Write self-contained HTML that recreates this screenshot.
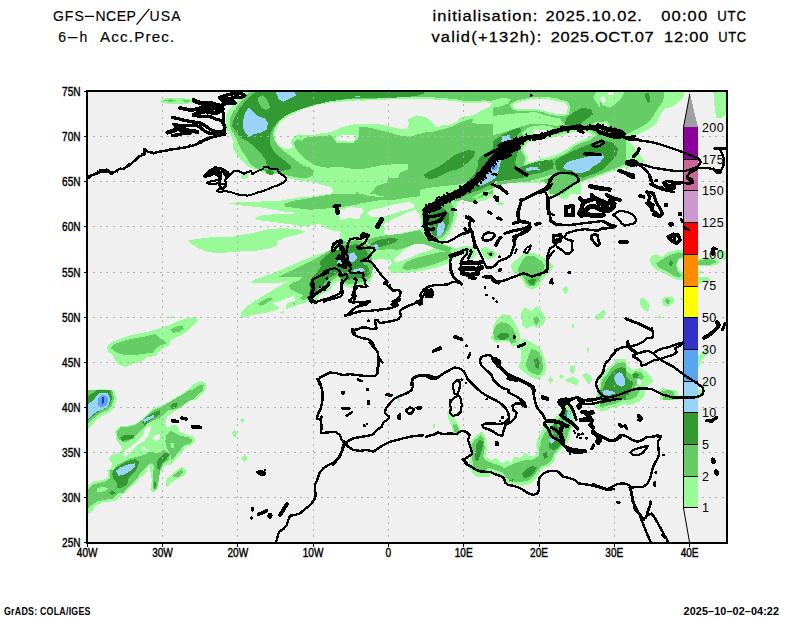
<!DOCTYPE html>
<html><head><meta charset="utf-8"><title>GFS 6-h Acc.Prec.</title>
<style>
html,body{margin:0;padding:0;background:#fff;}
body{width:800px;height:618px;overflow:hidden;position:relative;font-family:"Liberation Sans",sans-serif;}
svg{position:absolute;left:0;top:0;display:block;}
text{font-family:"Liberation Sans",sans-serif;fill:#000;}
</style></head><body>
<svg width="800" height="618" viewBox="0 0 800 618">
<defs><clipPath id="clip"><rect x="87" y="91" width="640" height="452"/></clipPath></defs>
<rect x="0" y="0" width="800" height="618" fill="#ffffff"/>
<rect x="87" y="91" width="640" height="452" fill="#f0f0f0"/>
<g clip-path="url(#clip)" shape-rendering="crispEdges">
<polygon points="245.3,91.0 241.2,96.0 237.0,101.0 232.0,106.8 228.7,111.0 226.2,116.0 226.2,129.3 230.3,134.3 233.7,141.0 232.8,147.7 235.3,152.7 238.7,157.7 243.7,162.7 248.7,166.8 254.5,169.3 260.3,171.0 267.0,174.3 275.3,173.5 282.0,174.3 287.0,177.7 297.0,180.2 307.0,181.0 313.7,181.8 320.3,184.3 330.3,186.8 333.7,191.0 330.3,194.0 360.3,194.0 360.3,91.0" fill="#98fb98"/>
<polygon points="241.2,175.2 245.3,173.5 248.7,174.3 247.8,177.7 243.7,179.3 241.2,177.7" fill="#98fb98"/>
<polygon points="360.0,91.0 493.3,91.0 493.3,194.0 360.0,194.0" fill="#98fb98"/>
<polygon points="493.0,91.0 626.3,91.0 626.3,194.0 493.0,194.0" fill="#98fb98"/>
<polygon points="548.0,184.3 573.0,184.3 581.3,182.3 581.3,194.0 548.0,194.0" fill="#98fb98"/>
<polygon points="600.0,91.0 684.2,91.0 683.3,97.7 678.3,102.7 671.7,106.8 665.0,108.5 661.7,112.7 658.3,118.5 656.7,123.5 651.7,126.8 646.7,130.2 641.7,132.7 636.7,135.2 631.7,137.7 628.3,141.0 633.3,146.0 638.3,152.7 641.7,157.7 645.0,162.7 640.0,164.3 633.3,166.0 625.0,171.0 616.7,174.3 610.0,177.7 600.0,181.0" fill="#98fb98"/>
<polygon points="159.5,101.0 164.5,98.5 177.0,98.0 192.0,99.0 193.2,102.2 187.0,104.0 172.0,104.0 162.0,103.0" fill="#98fb98"/>
<polygon points="228.7,203.7 243.7,201.5 260.3,201.5 280.3,200.7 290.3,199.0 300.3,197.3 313.7,196.5 327.0,194.0 360.3,194.0 360.3,250.7 331.7,250.0 335.3,244.0 342.0,237.3 350.3,231.5 340.3,231.5 330.3,229.8 323.7,227.3 320.3,224.0 313.7,224.8 305.3,226.5 293.7,224.8 282.0,223.2 268.7,221.5 256.2,219.8 255.3,218.2 260.3,215.7 277.0,214.0 293.7,213.7 293.7,212.3 283.7,211.5 273.7,209.8 260.3,207.3 243.7,205.7" fill="#98fb98"/>
<polygon points="188.3,240.3 200.0,238.7 213.3,237.0 223.3,236.5 233.0,236.7 237.0,235.7 252.0,233.2 268.7,229.0 283.7,228.2 297.0,229.0 305.3,231.5 300.3,234.0 292.0,235.7 283.7,238.2 277.8,240.7 277.0,245.7 270.3,248.2 257.0,250.7 240.3,251.5 233.0,251.5 223.3,253.2 215.0,253.2 206.7,251.5 198.3,248.2 191.7,244.0" fill="#98fb98"/>
<polygon points="251.7,280.8 263.3,276.7 276.7,271.7 290.0,265.8 303.3,260.0 316.7,255.0 328.3,250.8 331.7,250.0 363.3,250.0 363.3,283.3 356.7,281.7 350.0,285.0 346.7,282.5 345.0,276.7 341.7,279.2 336.7,281.7 332.5,285.0 331.7,289.2 325.0,292.5 319.2,295.8 316.7,300.0 316.7,304.2 313.3,305.0 308.3,301.7 303.3,303.3 296.7,305.0 290.0,307.5 285.8,309.2 286.7,303.3 291.7,301.7 296.7,300.0 293.3,295.8 286.7,298.3 278.3,301.7 271.7,303.3 276.7,305.8 280.0,308.3 273.3,310.8 266.7,312.5 256.7,314.2 246.7,316.7 240.8,318.3 240.8,312.5 246.7,306.7 255.0,300.8 263.3,295.8 271.7,290.8 278.3,286.7 285.0,283.3 288.3,280.8 280.0,282.5 263.3,283.3 251.7,282.5" fill="#98fb98"/>
<polygon points="280.0,312.5 284.2,311.3 283.3,314.2" fill="#98fb98"/>
<polygon points="360.0,194.0 464.0,194.0 452.0,191.0 460.0,186.0 470.0,180.0 500.0,180.0 500.0,190.0 494.0,195.0 486.0,200.0 478.0,202.0 468.0,200.0 464.0,198.0 458.0,202.0 456.0,208.0 457.0,216.0 454.0,224.0 450.0,232.0 446.0,238.0 444.0,244.0 452.0,247.0 460.0,250.0 456.0,255.0 452.0,260.0 446.0,264.0 434.0,268.0 420.0,271.0 406.0,273.0 391.0,273.0 388.0,267.0 392.0,263.0 390.0,260.0 380.0,259.0 373.0,260.0 373.0,276.0 370.0,282.0 362.0,286.0 352.0,288.0 344.0,286.0 340.0,284.0 340.0,194.0" fill="#98fb98"/>
<polygon points="468.0,248.0 473.0,246.0 475.0,252.0 470.0,255.0" fill="#98fb98"/>
<polygon points="488.0,253.0 494.0,251.0 496.0,256.0 490.0,257.0" fill="#98fb98"/>
<polygon points="390.0,268.0 398.0,260.0 430.0,260.0 430.0,269.0 418.0,268.0 408.0,270.0 398.0,271.0" fill="#98fb98"/>
<polygon points="510.5,264.8 518.0,258.2 524.7,252.3 534.7,253.2 543.0,257.3 549.7,262.3 553.8,266.5 549.7,272.3 543.0,279.0 538.0,287.3 531.3,289.8 526.3,287.3 523.0,280.7 518.0,275.7 513.0,271.5" fill="#98fb98"/>
<polygon points="496.3,203.2 501.3,201.5 504.7,204.0 500.5,205.7" fill="#98fb98"/>
<polygon points="548.0,194.0 569.7,194.0 568.0,198.2 564.7,199.8 559.7,197.3 553.0,195.7" fill="#98fb98"/>
<polygon points="562.2,289.8 565.5,285.7 568.8,289.8 565.5,294.0" fill="#98fb98"/>
<polygon points="493.0,250.7 496.3,253.2 493.0,257.3" fill="#98fb98"/>
<polygon points="649.2,260.7 651.7,255.7 656.7,254.0 661.7,257.3 666.7,253.2 673.3,250.7 680.0,249.8 686.7,251.5 698.0,259.0 706.7,257.3 716.7,258.2 720.0,260.7 716.7,264.8 708.3,266.5 698.0,265.7 693.3,272.3 686.7,280.7 678.3,279.8 673.3,278.2 668.3,275.7 663.3,273.2 656.7,269.8 651.7,265.7" fill="#98fb98"/>
<polygon points="716.7,251.5 726.7,250.7 726.7,260.7 721.7,259.0" fill="#98fb98"/>
<polygon points="698.3,272.3 700.8,269.8 702.5,272.3 700.0,274.8" fill="#98fb98"/>
<polygon points="698.0,277.3 708.3,276.5 710.0,280.7 698.0,284.0" fill="#98fb98"/>
<polygon points="107.0,347.0 110.3,342.8 120.3,338.7 133.7,334.5 147.0,332.0 158.7,328.7 170.3,324.5 180.3,320.3 190.3,317.8 197.0,317.0 197.8,321.2 192.0,327.0 185.3,332.8 177.0,337.0 170.3,340.3 169.5,345.3 163.7,347.8 158.7,352.0 155.3,356.2 147.0,357.0 142.0,361.2 133.7,363.7 125.3,367.0 120.3,365.3 115.3,361.2 112.8,355.3 107.8,351.2" fill="#98fb98"/>
<polygon points="167.0,317.0 173.7,316.2 171.2,318.7" fill="#98fb98"/>
<polygon points="173.7,400.0 180.3,395.3 188.7,388.7 195.3,382.8 202.0,381.2 206.2,383.7 206.2,388.7 202.0,393.7 195.3,400.0" fill="#98fb98"/>
<polygon points="87.0,392.8 93.7,390.3 102.0,388.7 110.3,390.3 116.2,395.3 117.0,400.0 87.0,400.0" fill="#98fb98"/>
<polygon points="493.0,327.0 496.3,320.3 503.0,313.7 509.7,315.3 514.7,322.0 518.8,330.3 520.5,337.8 518.0,345.3 513.0,347.0 509.7,342.0 503.0,341.2 496.3,342.8 493.0,341.2" fill="#98fb98"/>
<polygon points="520.5,313.7 524.7,307.0 531.3,311.2 536.3,306.2 541.3,310.3 546.3,318.7 543.0,324.5 536.3,327.8 533.0,325.3 526.3,328.7 522.2,325.3 521.3,318.7" fill="#98fb98"/>
<polygon points="518.0,345.3 523.0,338.7 529.7,341.2 536.3,345.3 541.3,350.3 544.7,358.7 546.3,367.0 544.7,374.5 538.0,379.5 531.3,377.0 524.7,372.8 518.0,367.0 521.3,360.3 521.3,352.0" fill="#98fb98"/>
<polygon points="594.7,316.2 599.7,312.8 604.7,309.5 606.3,313.7 601.3,318.7 596.3,320.3" fill="#98fb98"/>
<polygon points="571.3,326.2 573.0,323.7 575.0,326.2 573.0,328.3" fill="#98fb98"/>
<polygon points="586.3,348.7 588.8,347.8 588.8,353.7" fill="#98fb98"/>
<polygon points="570.5,366.2 575.5,365.3 574.7,371.2 572.2,374.5 570.0,371.2" fill="#98fb98"/>
<polygon points="548.0,380.3 550.5,376.2 553.0,380.3 550.5,383.7" fill="#98fb98"/>
<polygon points="558.8,376.2 561.3,374.0 563.8,376.7 561.3,378.7" fill="#98fb98"/>
<polygon points="564.7,379.5 573.0,377.0 578.8,380.3 578.0,386.2 573.0,383.7 566.3,381.2" fill="#98fb98"/>
<polygon points="581.3,375.3 586.3,372.8 590.5,375.3 592.2,380.3 588.8,384.5 584.7,378.7" fill="#98fb98"/>
<polygon points="586.3,317.0 588.8,316.2 588.8,318.7" fill="#98fb98"/>
<polygon points="596.3,395.3 599.7,383.7 606.3,372.0 613.0,363.7 619.7,358.7 626.3,359.5 626.3,400.0 596.3,400.0" fill="#98fb98"/>
<polygon points="600.0,375.3 605.0,370.3 611.7,365.3 616.7,358.7 623.3,359.5 626.7,365.3 633.3,370.3 640.0,367.8 646.7,372.0 651.7,377.0 653.3,382.0 648.3,385.3 643.3,387.8 636.7,389.5 633.3,395.3 626.7,400.0 600.0,400.0" fill="#98fb98"/>
<polygon points="640.0,298.7 644.2,297.8 650.0,305.3 648.3,312.0 643.3,309.5 640.0,304.5" fill="#98fb98"/>
<polygon points="600.0,312.0 605.0,309.5 605.8,313.7 600.0,318.7" fill="#98fb98"/>
<polygon points="657.5,317.0 659.7,314.5 661.7,317.0 659.7,319.0" fill="#98fb98"/>
<polygon points="661.7,300.3 665.0,297.0 673.3,297.0 674.2,302.0 668.3,307.0 663.3,305.3" fill="#98fb98"/>
<polygon points="679.2,298.7 683.3,297.8 683.3,300.3" fill="#98fb98"/>
<polygon points="698.0,357.0 701.7,352.0 706.7,350.3 706.7,354.5 703.3,357.8 700.0,363.7 698.3,368.7" fill="#98fb98"/>
<polygon points="703.3,383.7 708.3,382.0 706.7,386.2 702.5,387.8" fill="#98fb98"/>
<polygon points="660.0,390.3 663.3,387.0 670.0,392.0 675.0,397.0 680.0,400.0 660.0,400.0" fill="#98fb98"/>
<polygon points="87.0,390.0 113.7,390.0 116.2,396.7 115.3,405.0 110.3,411.7 103.7,415.0 97.0,419.2 92.0,425.0 87.0,430.0" fill="#98fb98"/>
<polygon points="190.3,390.0 183.7,393.3 177.0,396.7 168.7,401.7 160.3,405.8 153.7,408.3 148.7,413.3 142.0,419.2 135.3,424.2 127.0,425.8 118.7,426.7 115.3,431.7 116.2,440.0 120.3,445.0 122.8,449.2 118.7,452.5 112.0,455.0 108.7,458.3 112.0,463.3 111.2,468.3 107.0,471.7 112.0,475.0 108.7,480.0 100.3,480.8 93.7,482.5 88.7,488.3 87.0,493.0 125.3,493.0 128.7,488.3 135.3,483.3 140.3,476.7 145.3,471.7 148.7,465.0 150.3,470.0 152.8,475.0 152.0,483.3 150.3,490.0 153.7,492.5 157.8,488.3 158.7,480.0 160.3,471.7 165.3,465.0 170.3,465.0 173.7,461.7 177.8,456.7 182.0,451.7 185.3,447.5 192.0,445.0 195.3,440.8 193.7,436.7 187.0,435.0 179.5,431.7 177.8,425.8 172.0,425.0 167.0,428.3 165.3,423.3 167.0,416.7 173.7,411.7 182.0,406.7 190.3,400.8 198.7,395.0 203.7,390.0" fill="#98fb98"/>
<polygon points="165.3,483.3 167.0,478.3 172.0,475.0 177.0,470.0 182.0,466.7 185.3,470.0 182.0,476.7 175.3,480.0 170.3,483.3 167.0,487.5" fill="#98fb98"/>
<polygon points="87.0,514.9 92.0,511.6 95.3,505.7 103.6,502.4 115.3,500.8 120.3,496.6 125.2,491.6 131.9,485.8 136.9,480.0 143.5,475.0 148.5,470.0 107.0,470.0 108.6,476.7 103.6,480.0 93.7,481.6 87.0,486.6" fill="#98fb98"/>
<polygon points="150.2,470.0 160.2,470.0 158.5,480.0 156.8,490.0 153.5,492.4 151.0,488.3 151.8,480.0" fill="#98fb98"/>
<polygon points="165.1,486.6 166.8,480.0 171.8,475.0 176.8,470.0 186.8,470.0 185.1,475.0 178.4,477.5 173.5,479.1 168.5,483.3" fill="#98fb98"/>
<polygon points="240.0,420.8 242.5,418.3 245.0,420.8 242.5,423.3" fill="#98fb98"/>
<polygon points="232.0,433.3 234.5,429.2 237.0,434.2 234.5,438.3" fill="#98fb98"/>
<polygon points="241.3,458.3 244.7,454.2 248.0,458.3 244.7,462.5" fill="#98fb98"/>
<polygon points="395.5,399.2 400.5,397.5 399.7,401.7" fill="#98fb98"/>
<polygon points="432.7,424.2 434.7,424.2 433.8,430.8" fill="#98fb98"/>
<polygon points="447.2,411.7 449.7,410.8 453.0,416.7 458.0,423.3 460.5,430.0 459.7,435.0 456.3,435.8 453.8,430.0 450.5,423.3 448.0,417.5" fill="#98fb98"/>
<polygon points="468.0,445.0 473.0,438.3 479.7,432.5 482.2,431.7 486.3,438.3 486.7,450.0 485.0,458.3 489.7,463.3 489.7,476.7 476.3,476.7 471.3,471.7 468.0,466.7 469.7,460.0 472.2,453.3" fill="#98fb98"/>
<polygon points="490.0,337.0 493.3,334.5 493.3,341.2" fill="#98fb98"/>
<polygon points="395.0,398.7 400.0,397.0 400.8,400.0" fill="#98fb98"/>
<polygon points="486.0,456.7 491.0,460.0 496.0,458.3 502.7,463.3 507.7,460.0 511.0,463.3 514.3,456.7 521.0,458.3 524.3,452.5 529.3,455.8 534.3,456.7 537.7,451.7 536.0,445.0 537.7,438.3 541.0,431.7 543.5,427.5 549.3,423.3 554.3,418.3 559.3,413.3 564.3,406.7 571.0,405.0 574.3,408.3 573.5,416.7 575.2,423.3 571.0,430.0 569.3,436.7 567.7,443.3 564.3,446.7 559.3,450.8 555.2,455.8 554.3,461.7 550.2,465.8 544.3,467.5 539.3,472.5 536.0,478.3 531.0,483.3 522.7,485.8 512.7,484.2 506.0,481.7 501.0,476.7 494.3,473.3 486.0,470.0" fill="#98fb98"/>
<polygon points="594.3,406.7 597.7,401.7 602.7,396.7 601.0,390.0 619.3,390.0 619.3,406.7 612.7,406.7 606.0,409.2 599.3,410.0" fill="#98fb98"/>
<polygon points="486.0,441.7 487.3,441.7 487.3,450.0 486.0,450.0" fill="#98fb98"/>
<polygon points="600.0,390.0 645.0,390.0 644.2,396.7 638.3,401.7 630.0,405.0 623.3,404.2 616.7,406.7 610.0,408.3 605.0,410.8 600.0,411.7" fill="#98fb98"/>
<polygon points="658.3,390.0 676.7,390.0 678.3,396.7 673.3,400.0 666.7,399.2 661.7,396.7" fill="#98fb98"/>
<polygon points="698.0,390.0 703.3,390.0 701.7,396.7 698.0,398.3" fill="#98fb98"/>
<polygon points="447.5,411.7 450.8,416.7 455.0,423.3 459.2,430.0 460.8,433.0 453.3,433.0 451.7,426.7 449.2,420.0" fill="#98fb98"/>
<polygon points="433.0,424.2 434.7,424.2 434.2,430.8" fill="#98fb98"/>
<polygon points="462.5,245.7 470.0,246.5 475.2,249.5 476.7,254.7 472.2,259.2 467.0,257.7 462.5,254.0 456.5,257.0 452.0,260.0 449.0,255.5 455.0,249.5" fill="#98fb98"/>
<polygon points="480.5,248.0 486.5,247.2 492.5,250.2 497.7,254.0 494.0,257.7 488.0,260.0 483.5,256.2 481.2,251.7" fill="#98fb98"/>
<polygon points="274.5,137.7 275.3,131.0 278.7,124.3 283.7,119.3 292.0,114.3 300.3,110.2 310.3,106.8 320.3,104.3 330.3,102.7 343.7,101.3 360.3,100.2 360.3,124.0 353.7,124.3 347.0,126.0 340.3,127.7 333.7,131.0 327.0,132.7 320.3,133.5 313.7,135.2 305.3,135.2 298.7,134.3 293.7,136.8 291.2,141.0 292.0,147.7 288.7,149.3 282.0,147.7 277.0,143.5" fill="#f0f0f0"/>
<polygon points="359.2,100.7 376.7,100.2 393.3,99.0 410.0,98.5 426.7,99.0 443.3,100.2 456.7,101.3 466.7,103.5 476.7,103.0 485.0,101.8 491.7,103.5 490.0,106.8 483.3,109.3 476.7,113.5 470.0,116.0 460.0,116.8 456.7,121.8 451.7,124.3 443.3,125.2 436.7,127.7 431.7,122.7 426.7,117.7 416.7,115.2 410.0,118.5 407.5,118.5 409.2,124.3 406.7,128.5 398.3,128.5 388.3,126.0 376.7,124.0 359.2,123.7" fill="#f0f0f0"/>
<polygon points="600.0,181.0 610.0,177.7 616.7,174.3 625.0,171.0 633.3,166.0 640.0,164.3 645.0,162.7 641.7,157.7 638.3,152.7 633.3,146.0 628.3,141.0 631.7,137.7 636.7,135.2 641.7,132.7 646.7,130.2 651.7,126.8 656.7,123.5 658.3,118.5 661.7,112.7 665.0,108.5 671.7,106.8 678.3,102.7 683.3,97.7 684.2,91.0 733.3,91.0 733.3,194.0 600.0,194.0" fill="#f0f0f0"/>
<polygon points="336.2,215.3 343.7,212.7 353.7,211.3 360.3,210.7 360.3,219.0 350.3,218.3 343.7,217.3" fill="#f0f0f0"/>
<polygon points="340.0,210.0 350.0,207.0 362.0,208.0 364.0,212.0 360.0,215.0 352.0,216.0 346.0,219.0 340.0,220.0" fill="#f0f0f0"/>
<polygon points="366.0,213.0 372.0,210.0 384.0,207.0 396.0,204.0 408.0,202.0 415.0,204.0 414.0,208.0 406.0,210.0 398.0,212.0 390.0,215.0 380.0,217.0 372.0,217.0" fill="#f0f0f0"/>
<polygon points="383.0,225.0 388.0,221.0 398.0,217.0 408.0,212.0 416.0,210.0 420.0,215.0 421.0,222.0 422.0,228.0 416.0,230.0 406.0,232.0 398.0,234.0 390.0,235.0 384.0,234.0 385.0,229.0" fill="#f0f0f0"/>
<polygon points="404.0,250.0 412.0,245.0 424.0,242.0 432.0,244.0 436.0,248.0 428.0,251.0 420.0,253.0 412.0,257.0 404.0,260.0 396.0,263.0 393.0,260.0 398.0,255.0" fill="#f0f0f0"/>
<polygon points="152.8,438.3 155.3,435.0 159.5,434.2 160.3,438.3 157.0,440.8 153.7,440.0" fill="#f0f0f0"/>
<polygon points="145.3,428.3 152.0,425.0 150.3,430.0 147.8,436.7 143.7,441.7 137.0,445.0 132.0,450.0 127.0,455.0 124.5,458.3 122.8,455.0 125.3,450.0 130.3,446.7 137.0,441.7 142.0,436.7" fill="#f0f0f0"/>
<polygon points="140.3,445.8 145.3,447.5 148.7,450.8 143.7,450.0" fill="#f0f0f0"/>
<polygon points="250.3,91.0 245.3,96.8 238.7,104.3 233.7,111.0 230.3,117.7 229.5,124.3 232.0,131.0 236.2,137.7 238.7,144.3 242.0,151.0 247.0,157.7 250.3,164.3 257.0,168.5 265.3,171.0 268.7,174.3 275.3,172.7 283.7,174.3 290.3,176.0 298.7,177.7 307.0,177.7 312.8,176.0 313.7,171.0 310.3,167.7 303.7,166.0 297.0,161.0 290.3,156.0 283.7,151.0 278.7,146.0 274.5,141.0 272.8,134.3 274.5,128.5 278.7,121.8 285.3,116.0 295.3,111.0 307.0,106.8 318.7,103.5 332.0,101.0 347.0,99.3 360.3,98.5 360.3,91.0" fill="#66cc66"/>
<polygon points="293.7,142.7 297.0,139.3 302.0,141.0 305.3,137.7 313.7,136.8 323.7,136.0 330.3,135.2 333.7,138.5 335.3,141.0 343.7,142.7 353.7,141.8 357.0,138.5 360.3,136.0 360.3,169.3 350.3,168.5 340.3,166.8 327.0,167.7 317.0,166.0 313.7,164.3 308.7,161.0 303.7,157.7 298.7,152.7 295.3,147.7" fill="#66cc66"/>
<polygon points="360.0,91.0 493.3,91.0 493.3,101.3 483.3,100.2 476.7,101.0 466.7,101.3 456.7,99.3 443.3,98.0 426.7,97.0 410.0,96.7 393.3,97.3 376.7,98.5 360.0,99.3" fill="#66cc66"/>
<polygon points="359.2,126.8 370.0,127.7 380.0,130.2 390.0,132.7 401.7,136.0 410.0,136.8 415.0,135.2 423.3,132.7 433.3,131.8 443.3,129.3 453.3,126.0 461.7,121.8 470.0,119.3 473.3,118.5 471.7,122.7 480.0,124.3 493.3,123.5 493.3,194.0 360.0,194.0" fill="#66cc66"/>
<polygon points="493.0,91.0 596.3,91.0 593.0,97.7 599.7,107.7 609.7,111.0 619.7,109.3 626.3,112.7 626.3,166.0 616.3,170.2 606.3,173.5 593.0,178.5 581.3,181.8 573.0,184.3 548.0,184.3 543.0,181.0 526.3,181.8 509.7,181.0 493.0,179.3" fill="#66cc66"/>
<polygon points="549.7,174.3 563.0,174.3 576.3,176.8 579.7,181.8 571.3,187.7 563.0,194.0 549.7,194.0 548.0,186.0" fill="#66cc66"/>
<polygon points="600.0,101.0 605.0,106.0 610.0,107.7 616.7,102.7 621.7,97.7 625.0,91.0 664.2,91.0 663.3,101.0 658.3,107.7 653.3,116.0 648.3,122.7 641.7,126.8 633.3,131.0 626.7,134.3 623.3,141.0 623.3,146.0 620.0,152.7 625.0,157.7 621.7,164.3 615.0,169.3 606.7,174.3 600.0,176.0" fill="#66cc66"/>
<polygon points="713.3,91.0 726.7,91.0 726.7,114.3 721.7,117.7 716.7,118.5 715.0,111.0 714.2,101.0" fill="#98fb98"/>
<polygon points="164.5,100.5 170.8,99.2 175.8,100.5 170.8,102.5" fill="#66cc66"/>
<polygon points="182.0,100.5 187.0,99.5 190.8,101.0 186.5,102.5" fill="#66cc66"/>
<polygon points="283.7,204.0 293.7,200.7 303.7,199.0 313.7,197.3 323.7,195.7 333.7,194.0 360.3,194.0 360.3,204.0 350.3,205.7 340.3,207.3 330.3,208.2 320.3,209.0 310.3,209.8 297.0,208.2 285.3,206.5" fill="#66cc66"/>
<polygon points="279.2,276.7 285.0,273.3 296.7,268.3 306.7,263.3 316.7,258.3 325.0,253.3 330.0,250.0 363.3,250.0 363.3,271.7 356.7,273.3 351.7,276.7 346.7,275.0 345.0,271.7 340.0,275.0 335.0,278.3 330.0,281.7 326.7,285.8 321.7,289.2 317.5,291.7 313.3,295.0 310.0,300.0 308.3,298.3 303.3,300.0 300.0,298.3 303.3,295.0 296.7,292.5 291.7,290.0 288.3,285.8 293.3,282.5 300.0,280.0 303.3,276.7 296.7,276.7 288.3,277.5" fill="#66cc66"/>
<polygon points="258.3,303.3 264.2,300.0 269.2,297.5 273.3,299.2 268.3,301.7 263.3,305.0 260.0,305.8" fill="#66cc66"/>
<polygon points="292.5,303.3 295.8,303.0 294.2,305.0" fill="#66cc66"/>
<polygon points="374.0,194.0 380.0,196.0 394.0,198.0 408.0,196.0 414.0,194.0" fill="#66cc66"/>
<polygon points="366.0,240.0 376.0,237.0 388.0,235.0 400.0,234.0 410.0,232.0 420.0,230.0 426.0,238.0 432.0,242.0 444.0,245.0 452.0,248.0 448.0,252.0 440.0,250.0 432.0,247.0 424.0,244.0 416.0,244.0 406.0,247.0 398.0,250.0 390.0,249.0 380.0,250.0 372.0,249.0" fill="#66cc66"/>
<polygon points="402.0,268.0 406.0,262.0 416.0,258.0 428.0,255.0 440.0,252.0 449.0,251.0 452.0,254.0 448.0,259.0 438.0,263.0 428.0,266.0 416.0,269.0 406.0,270.0" fill="#66cc66"/>
<polygon points="422.0,212.0 426.0,206.0 436.0,202.0 446.0,200.0 452.0,204.0 454.0,212.0 453.0,220.0 449.0,229.0 444.0,236.0 438.0,239.0 430.0,238.0 426.0,232.0 423.0,222.0" fill="#66cc66"/>
<polygon points="452.0,192.0 460.0,187.0 470.0,182.0 478.0,180.0 500.0,180.0 500.0,186.0 492.0,192.0 484.0,196.0 476.0,199.0 468.0,197.0 460.0,195.0" fill="#66cc66"/>
<polygon points="340.0,240.0 348.0,242.0 356.0,240.0 364.0,242.0 370.0,248.0 372.0,260.0 373.0,268.0 371.0,276.0 366.0,281.0 358.0,283.0 348.0,284.0 340.0,281.0" fill="#66cc66"/>
<polygon points="518.0,269.0 522.2,260.7 526.3,255.7 534.7,256.5 541.3,260.7 544.7,265.7 543.0,272.3 539.7,279.0 534.7,285.7 529.7,286.5 526.3,282.3 523.0,276.5 518.8,273.2" fill="#66cc66"/>
<polygon points="655.8,263.2 661.7,259.8 666.7,256.5 673.3,254.0 678.3,252.3 683.3,253.2 683.3,256.5 678.3,259.0 675.8,264.0 677.5,270.7 681.7,275.7 678.3,277.3 673.3,275.7 668.3,272.3 663.3,269.8 658.3,267.3" fill="#66cc66"/>
<polygon points="698.0,260.7 706.7,259.0 715.0,259.8 716.7,262.3 710.0,264.8 698.0,264.8" fill="#66cc66"/>
<polygon points="110.3,347.8 115.3,343.7 125.3,340.3 137.0,337.8 147.0,336.2 155.3,333.7 160.3,338.7 165.3,341.2 166.2,343.7 160.3,345.3 155.3,348.7 152.8,352.8 143.7,353.7 133.7,355.3 125.3,355.3 117.0,352.8" fill="#66cc66"/>
<polygon points="170.3,329.5 175.3,327.0 182.0,325.3 183.7,328.7 179.5,332.0 172.8,332.8" fill="#66cc66"/>
<polygon points="180.3,400.0 187.0,394.5 193.7,388.7 200.3,384.5 203.7,384.5 202.8,390.3 197.0,395.3 192.0,400.0" fill="#66cc66"/>
<polygon points="87.0,395.3 95.3,392.0 102.0,390.3 109.5,392.0 113.7,396.2 114.5,400.0 87.0,400.0" fill="#66cc66"/>
<polygon points="493.0,332.0 496.3,325.3 501.3,322.0 508.0,323.7 513.0,328.7 516.3,335.3 515.5,342.0 511.3,343.7 508.0,339.5 501.3,339.5 494.7,340.3" fill="#66cc66"/>
<polygon points="533.0,317.8 537.2,316.2 539.7,320.3 536.3,325.3 533.8,322.0" fill="#66cc66"/>
<polygon points="525.5,365.3 528.0,357.0 531.3,348.7 538.0,351.2 542.2,358.7 543.0,368.7 539.7,375.3 533.0,373.7 528.0,370.3" fill="#66cc66"/>
<polygon points="599.7,390.3 603.0,380.3 609.7,370.3 616.3,363.7 623.0,362.0 626.3,363.7 626.3,400.0 601.3,400.0" fill="#66cc66"/>
<polygon points="601.7,380.3 608.3,373.7 615.0,367.0 618.3,362.8 622.5,363.7 625.0,370.3 631.7,375.3 635.8,371.2 641.7,372.8 644.2,377.0 640.0,382.0 635.8,385.3 633.3,390.3 628.3,395.3 621.7,400.0 600.0,400.0" fill="#66cc66"/>
<polygon points="665.0,300.3 667.5,297.8 670.0,300.3 668.3,304.5 665.8,302.8" fill="#66cc66"/>
<polygon points="662.5,393.7 665.0,391.2 670.0,395.3 673.3,400.0 663.3,400.0" fill="#66cc66"/>
<polygon points="87.0,390.0 112.0,390.0 113.7,397.5 112.0,405.0 107.0,410.0 100.3,413.3 93.7,418.3 87.0,424.2" fill="#66cc66"/>
<polygon points="172.8,475.8 177.8,471.7 182.0,469.2 182.8,472.5 178.7,476.7 174.5,477.5" fill="#66cc66"/>
<polygon points="203.7,390.0 197.0,395.0 190.3,400.0 182.0,405.8 175.3,409.2 168.7,410.0 165.3,413.3 160.3,417.5 153.7,420.8 147.0,423.3 143.7,428.3 138.7,433.3 133.7,438.3 127.0,441.7 122.0,441.7 117.8,438.3 117.0,431.7 120.3,427.5 128.7,426.7 135.3,425.0 142.0,420.0 147.0,415.0 153.7,410.0 162.0,406.7 170.3,401.7 178.7,396.7 187.0,391.7 190.3,390.0" fill="#66cc66"/>
<polygon points="166.2,435.0 170.3,430.8 175.3,433.3 180.3,435.8 188.7,437.5 192.8,440.0 190.3,443.3 183.7,445.8 179.5,450.8 175.3,455.8 171.2,460.0 170.3,453.3 167.0,448.3 165.3,441.7" fill="#66cc66"/>
<polygon points="87.0,493.0 90.3,487.5 97.0,483.3 105.3,481.7 112.0,476.7 113.7,470.0 117.0,465.0 123.7,461.7 130.3,458.3 137.0,456.7 143.7,455.0 150.3,451.7 157.0,453.3 163.7,450.0 170.3,453.3 168.7,460.0 163.7,463.3 160.3,470.0 158.7,480.0 157.0,488.3 153.7,490.0 152.8,483.3 153.7,473.3 153.7,465.0 150.3,463.3 145.3,468.3 140.3,473.3 137.0,478.3 130.3,485.0 125.3,490.0 123.7,493.0" fill="#66cc66"/>
<polygon points="87.0,509.9 92.0,504.9 97.0,501.6 105.3,499.9 113.6,498.3 118.6,493.3 125.2,487.5 130.2,481.6 135.2,476.7 140.2,471.7 141.9,470.0 109.4,470.0 110.3,478.3 103.6,482.5 93.7,484.1 87.0,490.0" fill="#66cc66"/>
<polygon points="152.7,470.0 158.5,470.0 156.8,481.6 155.2,488.3 153.5,486.6 153.5,478.3" fill="#66cc66"/>
<polygon points="453.8,426.7 456.3,423.3 459.7,430.0 457.2,433.3 454.7,430.8" fill="#66cc66"/>
<polygon points="470.5,446.7 474.7,440.0 480.5,435.3 483.8,438.3 484.7,448.3 483.0,456.7 486.3,461.7 487.2,473.3 478.0,472.5 473.0,466.7 472.2,456.7" fill="#66cc66"/>
<polygon points="486.0,460.8 492.7,463.3 499.3,465.0 504.3,468.3 509.3,465.8 514.3,463.3 519.3,461.7 526.0,460.0 532.7,460.0 538.5,455.8 539.3,448.3 541.0,440.0 544.3,433.3 548.5,428.3 552.7,425.0 557.7,420.0 562.7,415.0 567.7,410.0 571.0,411.7 571.0,418.3 571.8,425.0 568.5,431.7 566.8,438.3 564.3,443.3 559.3,448.3 554.3,453.3 551.8,460.0 546.8,464.2 541.0,466.7 536.8,471.7 533.5,476.7 527.7,480.8 519.3,482.5 511.0,480.8 506.0,477.5 502.7,472.5 496.0,470.0 486.0,467.5" fill="#66cc66"/>
<polygon points="597.7,393.3 599.3,390.0 619.3,390.0 619.3,400.0 612.7,401.7 606.0,402.5 601.0,399.2" fill="#66cc66"/>
<polygon points="600.0,390.0 640.0,390.0 636.7,396.7 630.0,400.0 623.3,400.0 616.7,403.3 610.0,405.0 603.3,406.7 600.0,407.5" fill="#66cc66"/>
<polygon points="660.8,391.7 666.7,390.0 673.3,390.8 674.2,395.8 666.7,396.7" fill="#66cc66"/>
<polygon points="452.5,423.3 455.8,426.7 457.5,431.7 454.2,431.7" fill="#66cc66"/>
<polygon points="356.3,192.1 368.4,196.1 384.4,197.1 388.4,194.1 400.5,190.1 420.6,187.1 440.6,186.1 440.6,194.1 420.6,196.1 404.5,198.1 392.4,200.1 380.4,200.1 368.4,202.1 356.3,204.1" fill="#66cc66"/>
<polygon points="487.2,252.5 491.7,251.0 494.7,254.0 491.0,256.7 487.7,255.5" fill="#66cc66"/>
<polygon points="333.7,136.8 343.7,132.7 356.2,133.5 357.8,139.3 353.7,143.0 336.2,142.7" fill="#98fb98"/>
<polygon points="359.2,169.3 370.0,167.7 381.7,165.2 393.3,164.3 408.3,164.3 408.3,169.3 400.0,172.7 398.3,177.7 388.3,177.7 386.7,182.7 376.7,186.0 370.0,194.0 359.2,194.0" fill="#98fb98"/>
<polygon points="509.7,104.3 518.0,100.2 531.3,97.3 543.0,96.5 554.7,98.0 567.2,101.3 570.5,106.8 568.8,115.2 559.7,116.3 549.7,114.7 543.0,112.3 533.0,110.7 523.0,111.3 513.0,110.2" fill="#98fb98"/>
<polygon points="597.2,98.5 603.8,94.0 608.8,100.2 603.8,106.0" fill="#98fb98"/>
<polygon points="606.3,91.0 618.0,91.0 614.7,96.8 606.3,96.8" fill="#98fb98"/>
<polygon points="520.5,148.5 526.3,141.0 534.7,137.7 548.0,136.0 559.7,133.5 571.3,130.2 581.3,128.5 589.7,130.2 597.2,134.7 589.7,140.2 581.3,143.0 574.7,146.3 569.7,150.7 564.7,154.0 558.0,156.8 551.3,159.3 543.0,161.0 534.7,164.3 523.8,165.7 525.5,157.7 522.2,153.0" fill="#98fb98"/>
<polygon points="521.3,132.7 529.7,126.8 543.0,125.2 553.0,126.8 556.3,131.8 549.7,134.7 534.7,136.3 524.7,136.8" fill="#98fb98"/>
<polygon points="593.0,122.7 608.0,121.0 609.7,128.5 599.7,130.2 593.8,126.8" fill="#98fb98"/>
<polygon points="493.0,100.2 503.0,97.7 511.3,99.0 508.0,103.5 499.7,106.8 493.0,107.7" fill="#98fb98"/>
<polygon points="493.0,116.0 506.3,114.3 523.0,112.7 536.3,112.3 548.0,116.0 559.7,118.5 564.7,124.3 556.3,126.0 543.0,123.5 529.7,124.3 519.7,126.8 509.7,130.2 499.7,133.5 493.0,135.2" fill="#98fb98"/>
<polygon points="578.0,182.3 593.0,176.8 606.3,171.8 616.3,168.0 626.3,163.5 626.3,194.0 578.0,194.0" fill="#98fb98"/>
<polygon points="170.3,443.3 173.7,442.5 174.5,448.3 171.2,447.5" fill="#98fb98"/>
<polygon points="97.0,488.3 103.6,486.6 107.8,488.3 105.3,490.8 99.5,492.4 97.0,491.6" fill="#98fb98"/>
<polygon points="536.8,441.7 540.2,440.8 541.0,445.8 537.7,446.7" fill="#98fb98"/>
<polygon points="420.0,190.0 426.7,188.3 436.7,186.7 446.7,185.8 456.7,184.7 463.3,183.3 467.5,180.8 461.7,186.7 453.3,191.7 443.3,196.7 433.3,202.5 425.0,207.5 420.0,208.3" fill="#98fb98"/>
<polygon points="486.7,190.0 493.3,187.5 500.0,185.0 508.3,183.3 516.7,182.5 526.7,181.7 536.7,179.2 546.7,175.8 553.3,174.2 553.3,176.7 546.7,178.7 536.7,181.7 526.7,183.7 516.7,184.7 508.3,185.8 500.0,187.5 493.3,190.0 486.7,193.0 480.0,195.8 477.5,198.3 470.0,198.7 478.3,194.2" fill="#98fb98"/>
<polygon points="336.2,137.3 343.7,134.7 354.5,135.3 355.3,139.3 352.0,141.7 337.0,141.0" fill="#f0f0f0"/>
<polygon points="513.0,104.3 519.7,101.8 531.3,99.3 543.0,98.5 553.0,100.2 564.7,102.7 568.0,106.8 566.3,113.5 559.7,114.3 549.7,112.7 543.0,110.2 533.0,108.5 523.0,109.3 514.7,108.5" fill="#f0f0f0"/>
<polygon points="599.7,98.0 603.8,96.0 606.3,100.2 603.0,103.5" fill="#f0f0f0"/>
<polygon points="608.0,91.0 616.3,91.0 613.0,95.2 608.0,95.2" fill="#f0f0f0"/>
<polygon points="523.8,147.7 528.8,142.7 536.3,140.2 548.0,138.5 559.7,136.0 571.3,132.7 581.3,131.0 588.0,132.7 593.0,135.2 586.3,138.5 579.7,141.0 573.0,144.3 568.0,148.5 563.0,151.8 556.3,154.3 549.7,156.8 541.3,158.5 533.0,161.8 526.3,162.7 528.0,157.7 524.7,152.7" fill="#f0f0f0"/>
<polygon points="533.0,129.3 548.0,130.7 551.3,133.5 534.7,134.7" fill="#f0f0f0"/>
<polygon points="596.3,123.5 606.3,123.5 608.0,126.8 599.7,127.7" fill="#f0f0f0"/>
<polygon points="493.0,182.3 513.0,182.7 526.3,183.0 543.0,182.3 548.0,185.2 548.0,194.0 493.0,194.0" fill="#f0f0f0"/>
<polygon points="581.3,182.3 593.0,178.5 606.3,173.5 616.3,170.2 626.3,166.0 626.3,194.0 581.3,194.0" fill="#f0f0f0"/>
<polygon points="678.3,259.8 683.3,259.0 683.3,272.3 680.0,270.7 677.5,265.7" fill="#f0f0f0"/>
<polygon points="637.5,378.7 641.7,380.3 640.0,385.3 636.7,383.7" fill="#f0f0f0"/>
<polygon points="453.3,200.8 463.3,195.8 473.3,191.7 483.3,188.3 493.3,184.7 498.3,181.7 506.7,180.8 515.0,179.2 523.3,178.3 533.3,175.8 543.3,174.2 553.3,171.7 553.3,174.2 546.7,175.8 536.7,179.2 526.7,181.7 516.7,182.5 508.3,183.3 500.0,185.0 493.3,188.3 486.7,190.8 478.3,194.2 470.0,197.5 476.7,198.3 475.0,202.5 468.3,201.7 461.7,200.0 455.0,201.7" fill="#66cc66"/>
<polygon points="257.0,91.0 250.3,96.0 245.3,101.0 238.7,109.3 233.7,119.3 232.0,126.0 237.0,132.7 240.3,137.7 247.0,141.0 253.7,146.0 260.3,152.7 265.3,159.3 267.0,166.0 273.7,169.3 282.0,171.0 290.3,169.3 291.2,166.0 285.3,161.0 278.7,156.0 273.7,151.0 270.3,144.3 269.5,137.7 272.0,129.3 277.0,122.7 283.7,116.8 293.7,111.8 305.3,107.7 317.0,104.3 330.3,101.3 343.7,99.3 360.3,97.7 360.3,91.0" fill="#339933"/>
<polygon points="264.5,169.3 272.0,170.7 274.5,173.5 271.2,175.2 267.0,173.5" fill="#339933"/>
<polygon points="360.0,91.0 423.3,91.0 424.2,93.5 416.7,96.0 401.7,97.3 385.0,98.0 360.0,98.0" fill="#339933"/>
<polygon points="424.2,174.3 430.0,171.0 438.3,166.8 446.7,161.0 453.3,156.0 460.0,152.7 468.3,150.2 475.0,151.0 474.2,156.0 470.0,161.0 463.3,166.0 458.3,169.3 450.0,171.0 443.3,174.3 436.7,177.7 430.0,179.3 425.0,177.7" fill="#339933"/>
<polygon points="554.7,161.0 563.0,156.0 573.0,151.0 583.0,146.8 593.0,142.7 603.0,140.2 613.0,142.7 618.0,148.5 616.3,156.0 609.7,162.7 603.0,169.3 593.0,174.3 583.0,177.7 573.0,176.0 563.0,173.5 556.3,169.3" fill="#339933"/>
<polygon points="564.7,124.3 566.3,117.7 573.0,112.7 583.0,107.7 591.3,109.3 593.0,114.3 586.3,119.3 579.7,124.3 571.3,126.8" fill="#339933"/>
<polygon points="493.0,141.0 503.0,134.3 513.0,129.3 519.7,127.7 521.3,131.0 516.3,136.0 509.7,141.0 503.0,146.0 499.7,154.3 503.0,162.7 499.7,169.3 503.0,174.3 513.0,172.7 523.0,169.3 533.0,164.3 543.0,161.8 551.3,160.2 554.7,164.3 549.7,169.3 541.3,172.7 533.0,174.3 523.0,177.7 513.0,179.3 503.0,180.2 493.0,179.3" fill="#339933"/>
<polygon points="644.2,94.3 648.3,92.7 650.0,97.7 649.2,104.3 645.8,99.3" fill="#339933"/>
<polygon points="600.0,141.0 610.0,144.3 618.3,149.3 615.0,156.0 610.0,162.7 603.3,169.3 600.0,170.2" fill="#339933"/>
<polygon points="308.3,297.5 310.0,290.0 309.2,283.3 311.7,278.3 316.7,273.3 320.8,266.7 320.0,261.7 325.0,256.7 330.0,252.5 333.3,250.0 363.3,250.0 363.3,268.3 356.7,270.0 353.3,266.7 346.7,270.0 343.3,268.3 340.0,271.7 335.0,275.0 330.0,277.5 325.8,281.7 322.5,285.8 318.3,288.3 315.0,292.5 312.5,297.5 310.0,300.0" fill="#339933"/>
<polygon points="370.0,244.0 378.0,240.0 390.0,238.0 399.0,239.0 394.0,243.0 384.0,246.0 376.0,248.0" fill="#339933"/>
<polygon points="428.0,214.0 434.0,209.0 444.0,208.0 449.0,214.0 449.0,223.0 445.0,231.0 440.0,236.0 434.0,236.0 430.0,230.0 428.0,222.0" fill="#339933"/>
<polygon points="458.0,189.0 466.0,184.0 476.0,180.0 492.0,180.0 488.0,186.0 480.0,190.0 470.0,193.0 462.0,193.0" fill="#339933"/>
<polygon points="340.0,246.0 348.0,246.0 356.0,244.0 364.0,246.0 368.0,254.0 364.0,260.0 358.0,262.0 368.0,266.0 370.0,274.0 364.0,278.0 356.0,278.0 348.0,280.0 340.0,278.0" fill="#339933"/>
<polygon points="489.0,253.4 492.0,253.0 491.2,255.6" fill="#339933"/>
<polygon points="527.2,280.7 533.8,278.2 536.3,279.8 533.0,285.7 529.7,284.0" fill="#339933"/>
<polygon points="668.3,263.2 670.8,259.8 673.3,263.2 670.8,266.5" fill="#339933"/>
<polygon points="90.3,400.0 94.5,395.3 102.0,392.0 108.7,394.5 112.0,400.0" fill="#339933"/>
<polygon points="497.2,336.2 501.3,332.8 508.0,332.8 509.7,336.2 504.7,339.5 499.7,339.5" fill="#339933"/>
<polygon points="533.8,359.5 537.2,357.8 539.7,362.8 538.8,368.7 535.5,367.0" fill="#339933"/>
<polygon points="602.2,390.3 606.3,380.3 611.3,373.7 616.3,368.7 621.3,367.0 626.3,368.7 626.3,400.0 608.0,395.3" fill="#339933"/>
<polygon points="603.3,387.0 610.0,378.7 616.7,372.0 621.7,370.3 625.0,375.3 629.2,380.3 633.3,382.0 631.7,387.8 625.0,393.7 618.3,397.0 610.0,395.3" fill="#339933"/>
<polygon points="632.5,374.5 635.8,372.8 639.2,374.5 637.5,377.8 633.3,377.8" fill="#339933"/>
<polygon points="87.0,396.7 93.7,392.5 97.0,390.0 110.3,390.0 112.0,397.5 110.3,404.2 105.3,408.3 98.7,411.7 92.0,416.7 87.0,421.7" fill="#339933"/>
<polygon points="169.5,406.7 173.7,402.5 177.8,402.5 177.0,406.7 172.8,409.2" fill="#339933"/>
<polygon points="142.0,422.5 147.0,416.7 153.7,412.5 160.3,410.0 160.3,414.2 153.7,418.3 148.7,421.7 144.5,425.8" fill="#339933"/>
<polygon points="120.3,437.5 124.5,435.0 133.7,435.0 133.7,438.3 127.0,440.0 122.0,440.8" fill="#339933"/>
<polygon points="112.0,473.3 115.3,468.3 120.3,465.0 128.7,460.8 135.3,459.2 139.5,461.7 137.0,468.3 133.7,473.3 128.7,478.3 127.0,485.0 120.3,488.3 117.0,483.3 113.7,479.2" fill="#339933"/>
<polygon points="157.0,461.7 160.3,456.7 165.3,452.5 169.5,454.2 167.0,458.3 162.0,463.3 159.5,470.0 157.0,468.3" fill="#339933"/>
<polygon points="154.2,482.5 155.3,480.8 156.2,486.7 154.5,488.3" fill="#339933"/>
<polygon points="112.8,470.0 113.6,476.7 117.8,481.6 116.9,488.3 120.3,488.3 126.9,481.6 131.1,475.0 131.9,470.0" fill="#339933"/>
<polygon points="108.6,492.4 113.6,490.8 116.1,493.3 111.9,494.9" fill="#339933"/>
<polygon points="475.5,445.0 479.7,440.0 483.8,441.7 481.3,451.7 478.0,461.7 474.7,460.0 475.5,451.7" fill="#339933"/>
<polygon points="521.8,474.2 526.0,469.2 532.7,465.8 536.8,467.5 534.3,472.5 529.3,476.7 524.3,478.3" fill="#339933"/>
<polygon points="542.7,453.3 546.8,451.7 547.7,456.7 544.3,459.2" fill="#339933"/>
<polygon points="548.5,445.0 551.0,438.3 554.3,433.3 559.3,436.7 562.7,441.7 559.3,446.7 554.3,450.0 550.2,449.2" fill="#339933"/>
<polygon points="551.0,426.7 556.0,423.3 559.3,428.3 556.0,433.3 552.7,431.7" fill="#339933"/>
<polygon points="559.3,415.0 564.3,410.0 569.3,410.8 569.3,416.7 564.3,420.0" fill="#339933"/>
<polygon points="507.7,480.0 514.3,479.2 512.7,481.7" fill="#339933"/>
<polygon points="600.2,390.0 619.3,390.0 619.3,396.7 611.0,398.3 602.7,396.7" fill="#339933"/>
<polygon points="600.0,390.0 631.7,390.0 628.3,395.0 621.7,396.7 615.0,400.0 606.7,402.5 600.0,404.2" fill="#339933"/>
<polygon points="423.3,209.2 433.3,202.5 443.3,196.7 453.3,191.7 461.7,186.7 468.3,180.8 475.0,173.3 477.5,166.7 478.3,160.0 481.7,155.8 488.3,151.7 495.0,146.7 501.7,140.8 503.3,138.3 520.0,138.3 518.3,150.0 516.7,156.7 515.0,163.3 517.5,168.3 526.7,165.0 536.7,161.7 546.7,160.0 553.3,161.7 553.3,168.3 546.7,170.8 536.7,172.5 526.7,173.3 520.0,175.8 513.3,175.8 508.3,177.5 503.3,180.8 498.3,180.8 493.3,183.7 486.7,186.7 478.3,189.2 470.0,193.3 461.7,197.0 453.3,200.3 446.7,203.3 440.0,206.3 430.0,210.8" fill="#339933"/>
<polygon points="257.8,97.7 262.8,95.2 267.8,101.0 270.3,107.7 266.2,110.2 261.2,107.7 258.7,102.7" fill="#66cc66"/>
<polygon points="242.8,121.0 245.3,112.7 248.7,107.7 252.0,111.0 257.0,116.0 265.3,118.5 267.8,122.7 267.0,129.3 260.3,132.7 253.7,134.3 249.5,136.8 245.3,132.7 242.8,127.7" fill="#99d3f7"/>
<polygon points="275.3,91.0 293.7,91.0 296.2,95.2 290.3,98.5 283.7,101.8 278.7,99.3 277.0,95.2" fill="#99d3f7"/>
<polygon points="354.5,95.7 359.5,95.7 359.5,97.0 354.5,97.0" fill="#99d3f7"/>
<polygon points="563.0,167.7 566.3,162.7 573.0,160.2 583.0,157.7 593.0,155.2 603.0,153.5 603.8,157.7 599.7,162.7 593.0,166.8 589.7,170.2 583.0,172.7 576.3,173.5 571.3,170.2 564.7,169.3" fill="#99d3f7"/>
<polygon points="503.0,136.0 509.7,135.2 511.3,141.0 504.7,144.3 501.3,141.0" fill="#99d3f7"/>
<polygon points="493.0,154.3 501.3,152.7 503.0,157.7 498.0,164.3 493.0,166.0" fill="#99d3f7"/>
<polygon points="526.3,167.7 538.0,166.8 538.0,170.2 526.3,170.7" fill="#99d3f7"/>
<polygon points="600.0,154.3 603.3,155.2 602.5,159.3 600.0,161.0" fill="#99d3f7"/>
<polygon points="336.7,265.0 338.3,260.0 345.0,258.3 350.0,255.0 355.0,255.0 357.5,258.3 353.3,261.7 346.7,263.3 341.7,266.7" fill="#99d3f7"/>
<polygon points="355.0,270.0 363.3,269.2 363.3,272.5 356.7,272.5" fill="#99d3f7"/>
<polygon points="373.0,245.0 377.0,244.0 379.0,248.0 375.0,250.0" fill="#99d3f7"/>
<polygon points="437.0,228.0 439.0,223.0 443.0,221.0 445.0,225.0 444.0,231.0 441.0,236.0 437.0,236.0" fill="#99d3f7"/>
<polygon points="478.0,182.0 486.0,180.0 489.0,181.0 483.0,185.0" fill="#99d3f7"/>
<polygon points="348.0,254.0 354.0,252.0 357.0,257.0 352.0,261.0 347.0,260.0" fill="#99d3f7"/>
<polygon points="354.0,269.0 362.0,268.0 365.0,271.0 358.0,273.0 353.0,272.0" fill="#99d3f7"/>
<polygon points="95.3,400.0 97.0,397.0 102.8,393.7 107.8,396.2 109.5,400.0" fill="#99d3f7"/>
<polygon points="613.8,378.7 616.3,373.7 619.7,372.0 623.0,374.5 625.5,380.3 624.7,385.3 620.5,386.2 616.3,383.7" fill="#99d3f7"/>
<polygon points="602.2,391.2 606.3,390.3 613.0,393.7 609.7,395.3 603.8,394.5" fill="#99d3f7"/>
<polygon points="614.2,378.7 617.5,372.8 621.7,372.8 624.2,379.5 625.0,384.5 621.7,387.0 617.5,384.5" fill="#99d3f7"/>
<polygon points="602.5,391.2 607.5,392.0 612.5,395.3 608.3,395.3 603.3,393.7" fill="#99d3f7"/>
<polygon points="87.0,405.0 93.7,400.0 97.0,395.0 100.3,392.5 107.8,393.3 110.3,398.3 108.7,405.0 103.7,409.2 97.0,411.7 92.0,415.0 87.0,420.0" fill="#99d3f7"/>
<polygon points="142.8,420.8 147.0,417.5 153.7,415.0 153.7,417.5 148.7,420.0 144.5,422.5" fill="#99d3f7"/>
<polygon points="116.2,471.7 120.3,467.5 128.7,464.2 135.3,463.3 134.5,466.7 130.3,470.8 125.3,474.2 118.7,475.8" fill="#99d3f7"/>
<polygon points="116.1,470.0 117.8,473.3 121.9,475.0 126.9,471.7 127.7,470.0" fill="#99d3f7"/>
<polygon points="548.5,440.0 554.3,435.8 555.2,440.0 551.8,444.2" fill="#99d3f7"/>
<polygon points="567.7,410.8 570.2,410.0 571.0,419.2 568.5,422.5 566.8,416.7" fill="#99d3f7"/>
<polygon points="602.7,390.8 612.7,390.8 614.3,393.3 607.7,395.0 603.5,393.3" fill="#99d3f7"/>
<polygon points="601.7,390.8 608.3,390.0 612.5,393.3 610.0,395.8 604.2,395.0" fill="#99d3f7"/>
<polygon points="477.5,185.0 480.0,179.2 485.0,173.3 486.7,166.7 490.0,160.8 495.0,155.0 500.0,149.2 505.0,143.3 507.5,138.3 510.8,138.3 508.3,145.8 504.2,151.7 501.7,158.3 500.0,165.0 498.3,171.7 495.8,177.5 491.7,180.8 485.8,183.7 480.8,185.8" fill="#99d3f7"/>
<polygon points="526.7,168.0 537.5,167.5 538.7,169.7 527.5,170.5" fill="#99d3f7"/>
<polygon points="493.0,166.8 495.5,166.8 495.5,170.2 493.0,170.2" fill="#3232c8"/>
<polygon points="99.5,400.0 100.3,397.8 102.8,396.2 105.3,397.8 106.2,400.0" fill="#5aa5ef"/>
<polygon points="97.8,398.3 101.2,395.0 107.0,395.8 108.7,400.0 106.2,405.8 101.2,407.5 97.8,405.0" fill="#5aa5ef"/>
<polygon points="490.8,167.5 495.0,164.2 498.3,165.0 497.0,169.2 493.3,170.8" fill="#5aa5ef"/>
<polygon points="102.0,397.5 103.7,396.7 103.7,403.3 102.3,404.2" fill="#3232c8"/>
<polygon points="491.7,166.7 494.3,166.3 494.3,168.7 491.7,168.7" fill="#3232c8"/>
</g>
<g stroke="#b0b0b0" stroke-width="1" fill="none" shape-rendering="crispEdges">
<line x1="162.5" y1="90.66" x2="162.5" y2="542" stroke-dasharray="2 4.54"/>
<line x1="237.5" y1="90.66" x2="237.5" y2="542" stroke-dasharray="2 4.54"/>
<line x1="313.5" y1="90.66" x2="313.5" y2="542" stroke-dasharray="2 4.54"/>
<line x1="388.5" y1="90.66" x2="388.5" y2="542" stroke-dasharray="2 4.54"/>
<line x1="463.5" y1="90.66" x2="463.5" y2="542" stroke-dasharray="2 4.54"/>
<line x1="539.5" y1="90.66" x2="539.5" y2="542" stroke-dasharray="2 4.54"/>
<line x1="614.5" y1="90.66" x2="614.5" y2="542" stroke-dasharray="2 4.54"/>
<line x1="689.5" y1="90.66" x2="689.5" y2="542" stroke-dasharray="2 4.54"/>
<line x1="86.41" y1="497.5" x2="726" y2="497.5" stroke-dasharray="2 4.69"/>
<line x1="86.41" y1="452.5" x2="726" y2="452.5" stroke-dasharray="2 4.69"/>
<line x1="86.41" y1="407.5" x2="726" y2="407.5" stroke-dasharray="2 4.69"/>
<line x1="86.41" y1="362.5" x2="726" y2="362.5" stroke-dasharray="2 4.69"/>
<line x1="86.41" y1="317.5" x2="726" y2="317.5" stroke-dasharray="2 4.69"/>
<line x1="86.41" y1="272.5" x2="726" y2="272.5" stroke-dasharray="2 4.69"/>
<line x1="86.41" y1="226.5" x2="726" y2="226.5" stroke-dasharray="2 4.69"/>
<line x1="86.41" y1="181.5" x2="726" y2="181.5" stroke-dasharray="2 4.69"/>
<line x1="86.41" y1="136.5" x2="726" y2="136.5" stroke-dasharray="2 4.69"/>
</g>
<g shape-rendering="crispEdges">
<rect x="683" y="475.8" width="15" height="31.7" fill="#98fb98"/>
<rect x="683" y="444.1" width="15" height="31.7" fill="#66cc66"/>
<rect x="683" y="412.4" width="15" height="31.7" fill="#339933"/>
<rect x="683" y="380.7" width="15" height="31.7" fill="#99d3f7"/>
<rect x="683" y="349.0" width="15" height="31.7" fill="#5aa5ef"/>
<rect x="683" y="317.3" width="15" height="31.7" fill="#3232c8"/>
<rect x="683" y="285.6" width="15" height="31.7" fill="#ffff00"/>
<rect x="683" y="253.9" width="15" height="31.7" fill="#ff8c00"/>
<rect x="683" y="222.2" width="15" height="31.7" fill="#ff0000"/>
<rect x="683" y="190.5" width="15" height="31.7" fill="#cc99cc"/>
<rect x="683" y="158.8" width="15" height="31.7" fill="#cc6699"/>
<rect x="683" y="127.1" width="15" height="31.7" fill="#8b009b"/>
<polygon points="683,127.1 698,127.1 690,94" fill="#a0a0a0"/>
<polygon points="683,507.5 698,507.5 690.5,542" fill="#f0f0f0"/>
</g>
<g stroke="#000" stroke-width="1" fill="none">
<line x1="683" y1="476.5" x2="698" y2="476.5" shape-rendering="crispEdges"/>
<line x1="683" y1="444.5" x2="698" y2="444.5" shape-rendering="crispEdges"/>
<line x1="683" y1="412.5" x2="698" y2="412.5" shape-rendering="crispEdges"/>
<line x1="683" y1="381.5" x2="698" y2="381.5" shape-rendering="crispEdges"/>
<line x1="683" y1="349.5" x2="698" y2="349.5" shape-rendering="crispEdges"/>
<line x1="683" y1="317.5" x2="698" y2="317.5" shape-rendering="crispEdges"/>
<line x1="683" y1="286.5" x2="698" y2="286.5" shape-rendering="crispEdges"/>
<line x1="683" y1="254.5" x2="698" y2="254.5" shape-rendering="crispEdges"/>
<line x1="683" y1="222.5" x2="698" y2="222.5" shape-rendering="crispEdges"/>
<line x1="683" y1="190.5" x2="698" y2="190.5" shape-rendering="crispEdges"/>
<line x1="683" y1="159.5" x2="698" y2="159.5" shape-rendering="crispEdges"/>
<line x1="683" y1="507.5" x2="698" y2="507.5" shape-rendering="crispEdges"/>
<line x1="683.5" y1="127.1" x2="683.5" y2="508" shape-rendering="crispEdges"/>
<line x1="683.5" y1="127.1" x2="689.8" y2="94"/>
<line x1="683.5" y1="508" x2="689.5" y2="542"/>
</g>
<g font-size="12.5" letter-spacing="0.4">
<text x="702" y="512.3">1</text>
<text x="702" y="480.6">2</text>
<text x="702" y="448.9">5</text>
<text x="702" y="417.2">10</text>
<text x="702" y="385.5">20</text>
<text x="702" y="353.8">30</text>
<text x="702" y="322.1">50</text>
<text x="702" y="290.4">75</text>
<text x="702" y="258.7">100</text>
<text x="702" y="227.0">125</text>
<text x="702" y="195.3">150</text>
<text x="702" y="163.6">175</text>
<text x="702" y="131.9">200</text>
</g>
<g clip-path="url(#clip)" stroke="#000" stroke-width="2.4" fill="none" stroke-linejoin="round" stroke-linecap="round" shape-rendering="crispEdges">
<path d="M86.2 178.0 L90.3 175.8 L97.0 173.3 L102.0 170.0 L107.8 170.0 L110.3 173.3 L115.3 171.7 L118.7 169.2 L122.8 169.2 L128.7 165.8 L134.5 160.8 L138.7 156.7 L144.5 154.2 L144.5 149.2 L147.8 151.7 L153.7 153.0 L162.0 151.3 L173.7 149.2 L185.3 147.5 L195.3 145.0 L203.7 140.8 L212.0 137.5 L220.0 135.0 L225.3 133.7" stroke-width="2.5"/>
<path d="M88.1 177.0 L88.6 178.0" stroke-width="2"/>
<path d="M93.2 174.8 L93.3 175.4" stroke-width="2"/>
<path d="M96.3 173.6 L96.7 174.0" stroke-width="2"/>
<path d="M98.3 172.4 L97.7 171.1" stroke-width="2"/>
<path d="M100.5 171.0 L100.1 170.1" stroke-width="2"/>
<path d="M106.9 170.0 L106.7 169.5" stroke-width="2"/>
<path d="M108.4 170.8 L108.1 171.2" stroke-width="2"/>
<path d="M113.3 172.3 L113.2 171.7" stroke-width="2"/>
<path d="M117.0 170.4 L117.5 171.5" stroke-width="2"/>
<path d="M120.4 169.2 L120.6 168.1" stroke-width="2"/>
<path d="M123.8 168.6 L124.4 169.0" stroke-width="2"/>
<path d="M127.4 166.6 L127.3 166.0" stroke-width="2"/>
<path d="M129.8 164.9 L128.4 164.1" stroke-width="2"/>
<path d="M134.3 161.0 L134.4 161.5" stroke-width="2"/>
<path d="M136.2 159.2 L135.9 158.7" stroke-width="2"/>
<path d="M139.5 156.3 L139.9 156.6" stroke-width="2"/>
<path d="M142.8 154.9 L141.8 153.8" stroke-width="2"/>
<path d="M150.6 152.3 L150.8 153.2" stroke-width="2"/>
<path d="M153.7 153.0 L153.7 153.7" stroke-width="2"/>
<path d="M159.8 151.8 L159.6 150.7" stroke-width="2"/>
<path d="M165.9 150.6 L166.0 151.1" stroke-width="2"/>
<path d="M169.8 149.9 L169.5 149.5" stroke-width="2"/>
<path d="M177.7 148.6 L177.5 149.2" stroke-width="2"/>
<path d="M180.0 148.3 L179.3 147.3" stroke-width="2"/>
<path d="M190.3 146.3 L190.2 145.1" stroke-width="2"/>
<path d="M195.2 145.0 L195.5 144.3" stroke-width="2"/>
<path d="M199.0 143.2 L198.6 142.5" stroke-width="2"/>
<path d="M201.2 142.0 L201.5 142.9" stroke-width="2"/>
<path d="M205.9 139.9 L206.1 139.0" stroke-width="2"/>
<path d="M211.9 137.5 L211.8 138.4" stroke-width="2"/>
<path d="M215.5 136.4 L215.9 136.9" stroke-width="2"/>
<path d="M216.9 136.0 L216.4 135.5" stroke-width="2"/>
<path d="M96.2 173.7 L102.0 171.0 L108.7 171.3 L112.0 173.7" stroke-width="3.2"/>
<path d="M87.0 178.0 L90.0 176.3" stroke-width="3.5"/>
<path d="M219.4 97.4 L230.0 94.2 L240.0 93.0 L245.0 95.5 L241.2 97.4 L235.0 96.8 L230.0 98.6 L225.0 98.0 L221.2 99.9 L225.0 101.8 L233.8 101.1 L235.0 103.0 L227.5 103.6 L222.5 104.2" stroke-width="3.4"/>
<path d="M193.8 100.5 L197.5 102.0 L202.5 103.6 L210.0 103.2 L216.2 104.9 L221.2 106.1 L222.5 109.2 L218.8 111.8 L215.0 113.0 L210.0 111.8 L205.0 111.1 L200.0 112.4 L196.2 114.2 L193.8 114.9" stroke-width="4.6"/>
<path d="M203.8 106.8 L212.5 108.0 L218.8 108.6" stroke-width="4.5"/>
<path d="M180.0 108.0 L185.0 108.9 L190.0 110.1 L195.0 109.5 L200.0 108.2 L203.8 107.0 L210.0 106.8 L215.0 108.0" stroke-width="3.8"/>
<path d="M172.5 117.4 L177.5 118.6 L185.0 120.5 L192.5 121.8 L200.0 123.0 L205.0 125.5 L210.0 129.2 L216.2 131.8 L222.5 131.1 L225.0 128.0 L223.8 124.2 L221.2 120.5 L216.2 119.2 L212.5 117.4 L207.5 116.1 L202.5 116.8 L197.5 116.1" stroke-width="3.2"/>
<path d="M173.8 124.2 L178.8 125.5 L187.5 125.5 L195.0 124.9 L200.0 126.8 L203.8 130.5 L208.8 133.0 L215.0 133.6 L222.5 134.2" stroke-width="3.2"/>
<path d="M167.5 132.4 L172.5 131.1 L177.5 129.2 L182.5 129.9 L187.5 130.5 L192.5 131.1 L197.5 131.8" stroke-width="4.2"/>
<path d="M175.0 127.4 L180.0 128.0 L185.0 128.6" stroke-width="3"/>
<path d="M172.5 135.5 L177.5 134.9 L182.5 133.6 L190.0 133.0" stroke-width="3.4"/>
<path d="M225.0 134.2 L220.0 135.5 L212.5 136.8 L207.5 138.0 L202.5 140.5 L198.8 142.0" stroke-width="2.4"/>
<path d="M222.5 104.2 L223.1 113.0 L223.8 124.2 L225.0 134.2" stroke-width="3"/>
<path d="M203.8 176.2 L208.8 171.2 L215.0 167.5 L220.0 168.1 L225.0 170.6 L228.1 172.5 L228.8 175.6 L226.9 177.5 L224.4 173.8 L222.5 171.2 L220.0 172.5 L221.2 175.6 L217.5 175.0 L213.8 173.8 L210.0 175.6 L205.0 176.9 Z" stroke-width="2.4"/>
<path d="M207.5 175.0 L212.5 171.2 L217.5 170.0" stroke-width="4.5"/>
<path d="M216.2 169.4 L218.8 173.8 L220.0 178.8" stroke-width="4"/>
<path d="M223.8 171.9 L226.9 175.6" stroke-width="4"/>
<path d="M207.5 181.9 L212.5 181.2 L217.5 180.0 L220.0 181.9 L216.2 183.8 L211.2 184.4 L207.5 183.1 Z" stroke-width="2.2"/>
<path d="M218.8 184.4 L223.8 183.8 L226.2 186.2 L222.5 188.1 L220.0 186.9 Z" stroke-width="2.2"/>
<path d="M228.8 175.6 L231.2 173.8 L233.8 171.2 L237.5 170.6 L241.2 172.5 L243.8 173.8 L247.5 171.9 L251.2 171.2 L252.5 174.4 L255.0 172.5 L258.8 170.6 L262.5 169.4 L263.8 167.5 L267.5 166.9 L270.0 169.4 L273.8 168.8 L277.5 169.4 L278.8 172.5 L282.5 175.0 L285.6 177.5 L285.6 180.6 L282.5 183.1 L277.5 185.6 L272.5 186.9 L267.5 189.4 L262.5 191.2 L257.5 192.5 L252.5 194.4 L247.5 195.6 L242.5 195.0 L237.5 194.4 L233.8 193.1 L230.0 191.9 L225.0 191.2 L220.0 191.9 L216.9 191.2 L218.8 189.4 L223.1 188.8 L225.6 186.9 L226.2 183.8 L225.0 180.0 L226.9 177.5" stroke-width="2.1"/>
<path d="M350.0 239.4 L355.0 238.1 L360.0 238.8 L363.8 237.5 L364.4 234.4 L367.5 235.6 L366.9 238.8 L365.0 242.5 L361.2 245.0 L357.5 246.9 L358.8 248.8 L363.8 248.1 L368.8 247.5 L373.8 248.1 L375.0 250.0 L372.5 252.5 L370.0 255.6 L367.5 258.1 L363.8 259.4 L361.2 261.2 L365.0 261.2 L368.8 260.6 L371.2 262.5 L373.8 265.0 L376.2 268.1 L378.8 271.9 L381.2 275.0 L385.0 278.8 L387.5 282.5 L386.2 284.4 L390.0 287.5 L391.9 289.4" stroke-width="2.4"/>
<path d="M350.0 239.4 L348.1 243.1 L347.5 246.9 L346.9 250.0 L346.2 253.8 L348.1 256.2 L346.9 260.0 L345.0 262.5 L347.5 265.0 L350.0 266.2 L351.2 268.8 L349.4 271.2 L351.2 273.1 L355.0 273.1 L358.8 272.5 L362.5 273.1 L363.8 275.0 L362.5 277.5 L365.0 280.0 L365.0 283.8 L367.5 286.2 L363.8 286.9 L358.8 286.2 L355.0 286.9 L353.8 290.0 L355.0 293.1 L352.5 295.0 L355.0 298.1 L353.8 302.0" stroke-width="2.4"/>
<path d="M331.9 248.8 L333.8 244.0 L337.5 241.5 L341.2 240.2 L341.6 242.5 L338.8 244.4 L336.2 246.9 L334.4 250.0 L332.5 251.2 Z" stroke-width="2.8"/>
<path d="M341.2 247.5 L343.8 251.9 L342.5 256.9 L344.0 261.9 L345.0 266.9" stroke-width="5"/>
<path d="M338.8 256.2 L341.9 258.1" stroke-width="4"/>
<path d="M336.9 258.1 L338.8 258.5" stroke-width="3"/>
<path d="M347.5 261.2 L350.0 265.0" stroke-width="4"/>
<path d="M338.8 265.0 L343.1 266.2" stroke-width="3.5"/>
<path d="M363.8 234.4 L367.5 236.2" stroke-width="4"/>
<path d="M308.8 297.5 L312.5 295.0 L312.5 290.0 L313.8 285.0 L312.5 280.0 L316.2 277.5 L321.2 275.0 L325.0 271.2 L330.0 269.4 L335.0 268.1 L338.8 270.0 L341.2 273.1 L340.0 276.2 L343.1 275.0 L346.2 273.8 L347.5 277.5 L345.0 280.0 L341.2 282.5 L341.2 287.5 L343.1 292.5 L341.2 296.2 L337.5 297.5 L332.5 298.8 L327.5 300.0 L323.8 302.0" stroke-width="2.4"/>
<path d="M312.5 280.0 L311.9 285.0 L313.8 288.8 L311.2 292.5 L312.5 296.2 L309.4 298.8 L311.2 302.0" stroke-width="3.2"/>
<path d="M322.5 275.0 L327.5 272.5" stroke-width="3.2"/>
<path d="M356.7 280.0 L355.0 285.0 L356.7 288.3 L353.3 291.7 L355.8 295.8 L351.7 298.3 L349.2 300.8 L353.3 302.5 L358.3 301.7 L363.3 302.5 L370.0 300.8 L366.7 304.2 L361.7 305.8 L356.7 306.7 L353.3 309.2 L350.0 312.5 L346.7 315.0 L345.0 315.8 L348.3 315.0 L353.3 313.3 L358.3 311.7 L363.3 310.8 L370.0 310.8 L376.7 310.0 L383.3 309.2 L390.0 308.3 L395.0 306.7 L398.3 305.0 L395.0 303.3 L392.5 301.7 L396.7 299.2 L400.0 295.8 L400.8 291.7 L398.3 290.0 L393.3 290.8 L390.8 288.3 L389.7 284.7" stroke-width="2.4"/>
<path d="M398.3 305.0 L393.3 305.8" stroke-width="2.4"/>
<path d="M349.2 300.8 L353.3 302.5" stroke-width="3"/>
<path d="M345.0 315.8 L349.2 314.2" stroke-width="3"/>
<path d="M311.7 296.7 L310.0 300.0 L315.0 302.5 L321.7 300.0 L328.3 298.3 L335.0 295.8 L340.0 293.3 L341.7 288.3 L342.5 283.3 L341.7 280.0" stroke-width="2.4"/>
<path d="M310.0 298.7 L314.2 295.3 L318.3 292.0 L323.3 289.2 L327.5 285.8 L329.2 282.5" stroke-width="3.2"/>
<path d="M309.2 297.5 L312.5 300.8 L315.8 302.5" stroke-width="3.4"/>
<path d="M435.0 285.0 L428.3 286.7 L425.8 290.0 L424.2 295.0 L420.0 300.0 L415.0 303.3 L408.3 305.8 L403.3 308.3 L400.0 310.8 L400.8 315.8 L398.3 319.2 L393.3 320.8 L388.3 321.7 L383.3 322.5 L380.0 323.3 L377.5 320.0 L375.0 320.0 L375.8 325.0 L376.7 328.3 L371.7 329.2 L366.7 327.5 L361.7 327.5 L358.3 329.2 L353.3 330.0 L353.3 334.2 L357.5 336.7 L363.3 338.3 L368.3 339.2 L372.5 342.5 L371.7 345.8 L375.0 348.3 L377.5 351.7 L378.3 355.8 L378.3 363.3 L377.5 368.3 L377.5 373.3 L375.0 375.8 L370.0 376.3 L363.3 375.8 L356.7 375.0 L350.0 374.2 L343.3 375.0 L336.7 373.3 L330.0 372.5 L325.0 375.0 L320.0 377.5 L318.3 380.8 L320.0 385.0" stroke-width="2.4"/>
<path d="M378.3 355.8 L380.0 359.2 L382.5 362.5" stroke-width="2.4"/>
<path d="M427.5 291.0 L431.3 289.7 L432.3 292.0 L429.0 294.3 Z" stroke-width="3"/>
<path d="M416.7 302.0 L420.3 300.8 L420.0 304.2 Z" stroke-width="3"/>
<path d="M352.5 330.0 L354.2 334.2" stroke-width="4"/>
<path d="M370.0 342.5 L373.3 345.0" stroke-width="3.5"/>
<path d="M410.8 385.0 L413.3 378.3 L418.3 375.8 L425.0 375.0 L433.0 376.7 L438.3 378.3" stroke-width="2.4"/>
<path d="M430.0 238.3 L435.0 240.8 L441.7 242.5 L448.3 241.7 L453.3 239.2 L458.3 235.8 L463.3 233.3 L468.3 232.5 L470.0 228.3 L469.2 223.3 L471.7 220.0" stroke-width="2.4"/>
<path d="M470.0 228.3 L471.7 233.3 L473.3 238.3 L475.0 243.3 L477.5 248.3 L480.0 253.3 L482.5 258.3 L484.2 263.3 L486.7 267.5 L491.7 267.5 L495.8 265.0 L498.3 261.7 L501.7 260.0 L506.7 258.3 L510.8 255.0 L512.5 250.0 L514.2 245.0 L513.3 240.0 L515.8 236.7 L520.0 235.0 L526.7 231.7 L530.8 227.5 L528.3 222.5 L523.3 220.8 L518.3 221.7 L517.5 215.0 L519.2 208.3 L520.0 203.3" stroke-width="2.4"/>
<path d="M505.0 233.3 L513.3 230.8 L521.7 229.2 L528.3 226.7" stroke-width="3"/>
<path d="M513.3 236.7 L523.3 233.3" stroke-width="3"/>
<path d="M465.0 233.3 L470.0 230.0" stroke-width="3.5"/>
<path d="M452.5 275.0 L450.8 270.0 L450.0 263.3 L450.8 258.3 L453.3 254.2 L458.3 252.5 L463.3 250.0 L467.5 249.2 L466.7 254.2 L464.2 256.7 L461.7 260.0 L460.8 265.0 L461.7 271.7 L465.0 275.0" stroke-width="2.4"/>
<path d="M450.8 255.8 L461.7 252.2" stroke-width="4.5"/>
<path d="M461.7 263.3 L470.0 262.5 L478.3 263.3 L482.5 261.7" stroke-width="4.5"/>
<path d="M460.8 269.2 L468.3 268.3 L476.7 269.2 L481.7 267.5" stroke-width="5"/>
<path d="M462.5 273.3 L470.0 275.0 L478.3 273.3" stroke-width="4.5"/>
<path d="M470.0 277.5 L475.0 278.3" stroke-width="3.5"/>
<path d="M468.3 258.3 L470.0 255.0 L471.7 251.7" stroke-width="2.5"/>
<path d="M450.0 263.3 L450.8 270.0 L453.3 276.7 L457.5 280.8 L461.7 284.2" stroke-width="3"/>
<path d="M419.2 303.3 L421.7 298.3 L420.0 295.0 L423.3 290.0 L428.3 286.7 L435.0 285.0 L441.7 285.0 L448.3 284.2 L453.3 281.7 L458.3 282.5 L461.7 284.2" stroke-width="2.4"/>
<path d="M425.0 290.3 L431.7 291.7 L431.7 295.8 L426.7 296.3 Z" stroke-width="4"/>
<path d="M483.3 276.7 L490.0 276.7 L493.3 280.0 L498.3 281.7 L503.3 280.8 L510.0 278.3 L516.7 275.8 L523.3 273.3 L528.3 275.0 L531.7 276.7 L536.7 275.0 L541.7 273.3 L546.7 271.7 L548.3 266.7 L547.5 261.7 L549.2 256.7 L551.7 253.3 L554.2 250.8" stroke-width="2.4"/>
<path d="M485.8 276.7 L491.7 277.5 L494.2 280.8 L498.3 282.5" stroke-width="4"/>
<path d="M482.5 237.5 L484.2 234.2 L488.3 232.5 L493.3 233.3 L495.0 235.8 L491.7 239.2 L486.7 240.8 L483.3 240.0 Z" stroke-width="2.6"/>
<path d="M495.8 245.3 L498.3 240.3 L500.8 237.5" stroke-width="3.4"/>
<path d="M524.2 252.0 L526.7 247.8 L530.8 245.3 L530.0 249.2 L526.7 253.3 Z" stroke-width="2"/>
<path d="M515.0 253.3 L516.7 249.2" stroke-width="2"/>
<path d="M466.7 217.5 L473.3 220.8" stroke-width="3.4"/>
<path d="M430.0 238.8 L427.5 232.5 L425.6 226.2 L425.0 220.0 L425.6 213.8 L426.2 208.8 L431.2 205.6 L437.5 202.5 L443.8 199.4 L448.8 196.2 L453.8 193.8 L460.0 192.5 L465.0 188.8 L470.0 183.8 L475.0 180.0 L480.0 175.0 L485.0 170.0" stroke-width="5"/>
<path d="M426.2 211.2 L433.8 210.0 L440.0 207.5" stroke-width="3.4"/>
<path d="M426.2 217.5 L433.8 216.2 L443.8 213.8" stroke-width="3.4"/>
<path d="M427.5 223.8 L435.0 222.5 L440.0 220.0" stroke-width="3.4"/>
<path d="M427.5 230.0 L433.8 228.8" stroke-width="3.4"/>
<path d="M445.0 213.1 L442.5 217.5 L440.0 221.2" stroke-width="3.4"/>
<path d="M428.8 235.0 L432.5 238.1 L436.2 240.0" stroke-width="4"/>
<path d="M432.5 207.5 L440.0 204.4 L447.5 200.6" stroke-width="4"/>
<path d="M461.2 195.0 L466.2 191.2 L471.2 188.8" stroke-width="3"/>
<path d="M465.0 228.8 L467.5 232.5 L470.0 228.8 L472.5 232.5 L473.1 237.5 L474.4 242.5 L475.0 247.5" stroke-width="3.2"/>
<path d="M452.5 210.0 L456.2 210.0" stroke-width="2.8"/>
<path d="M466.2 216.9 L472.5 220.0" stroke-width="3.4"/>
<path d="M488.8 211.9 L491.2 213.8" stroke-width="3"/>
<path d="M497.5 218.1 L501.2 219.4" stroke-width="3"/>
<path d="M495.0 196.9 L497.5 200.6" stroke-width="3.4"/>
<path d="M492.5 184.4 L500.0 188.1 L507.5 193.8" stroke-width="2.4"/>
<path d="M425.0 210.0 L430.0 206.7 L440.0 200.8 L450.0 195.8 L460.0 190.8 L468.3 185.0 L475.0 180.0 L480.0 175.0 L485.0 168.3 L490.0 161.7 L495.0 155.8 L500.0 150.0 L506.7 145.8 L513.3 142.5 L520.0 140.0" stroke-width="5.2"/>
<path d="M476.7 175.8 L478.3 173.3" stroke-width="3"/>
<path d="M485.0 155.8 L493.3 151.7 L500.0 148.3" stroke-width="3"/>
<path d="M491.7 184.2 L500.0 187.5 L506.7 192.0" stroke-width="2.8"/>
<path d="M515.8 168.3 L526.7 175.0" stroke-width="3.6"/>
<path d="M554.2 175.0 L550.0 181.7 L546.7 187.5 L540.0 191.7 L533.3 195.0 L526.7 198.3 L521.7 200.8 L520.0 206.7 L518.3 213.3 L518.3 220.0 L523.3 221.7 L530.0 223.3 L528.3 228.3 L523.3 231.7 L518.3 235.0 L515.0 240.0 L514.2 246.7" stroke-width="2.4"/>
<path d="M520.0 200.0 L524.2 199.2" stroke-width="3"/>
<path d="M513.3 223.3 L520.0 221.7 L526.7 222.5" stroke-width="3"/>
<path d="M554.2 196.3 L548.3 198.3 L548.3 206.7 L550.0 213.3 L554.2 215.3" stroke-width="2.4"/>
<path d="M498.3 150.8 L506.7 145.8 L513.3 142.5 L520.0 140.0 L526.7 138.3 L533.3 136.7 L540.0 135.8 L546.7 134.2 L553.3 131.7 L560.0 130.0 L566.7 128.3 L573.3 127.5 L580.0 127.5 L586.7 128.3 L593.3 127.5 L600.0 126.7 L606.7 129.2 L613.3 130.8 L620.0 131.7 L623.3 134.2 L620.0 136.7 L615.0 136.7 L608.3 135.0 L603.3 133.3" stroke-width="4.6"/>
<path d="M500.0 145.8 L506.7 143.3 L515.0 141.7" stroke-width="5"/>
<path d="M500.0 155.8 L508.3 151.7 L518.3 147.5" stroke-width="5"/>
<path d="M501.7 158.3 L510.0 155.0" stroke-width="4"/>
<path d="M533.3 139.2 L543.3 137.5" stroke-width="3.5"/>
<path d="M578.3 130.8 L583.3 132.5" stroke-width="3"/>
<path d="M596.7 130.0 L600.0 133.3" stroke-width="3.4"/>
<path d="M626.7 137.5 L635.0 136.3" stroke-width="2.6"/>
<path d="M516.7 214.2 L520.0 205.0 L521.7 200.8 L528.3 196.7 L535.0 193.3 L543.3 189.2 L548.3 185.8 L549.2 180.0 L553.3 175.8 L558.3 173.3 L565.0 173.0 L571.7 173.3 L575.8 175.0 L578.3 178.3 L578.3 181.7 L573.3 184.2 L568.3 187.5 L563.3 190.8 L558.3 194.2 L553.3 196.7 L548.3 198.3 L546.7 203.3 L547.5 208.3 L548.3 214.2" stroke-width="2.4"/>
<path d="M592.5 145.0 L596.7 142.5 L601.7 140.8 L604.2 142.5 L600.0 145.8 L595.0 147.0 Z" stroke-width="2.6"/>
<path d="M585.0 153.7 L600.0 154.7" stroke-width="3.6"/>
<path d="M515.8 168.3 L525.0 174.2" stroke-width="3.4"/>
<path d="M626.7 163.3 L633.3 165.3" stroke-width="4"/>
<path d="M619.2 170.8 L626.7 173.3 L633.3 175.3" stroke-width="3.6"/>
<path d="M590.0 185.8 L600.0 187.5 L608.3 189.2" stroke-width="3.4"/>
<path d="M500.0 185.8 L505.0 191.7" stroke-width="2.6"/>
<path d="M540.0 193.3 L545.0 190.8 L550.0 187.5 L551.7 184.2" stroke-width="2.4"/>
<path d="M547.5 196.7 L547.5 203.3 L549.2 210.0 L550.0 216.7 L551.7 220.8 L556.7 224.2 L563.3 225.0 L570.0 225.0 L576.7 224.2 L583.3 223.3 L590.0 222.5 L596.7 221.7 L603.3 220.8 L606.7 222.5 L610.0 225.0 L615.0 225.8 L613.3 227.5 L606.7 228.3 L601.7 228.3 L598.3 230.8 L591.7 230.0 L585.0 229.2 L578.3 230.0 L571.7 231.7 L566.7 233.3 L565.0 236.7 L560.0 238.3 L555.0 240.0 L556.7 243.3 L553.3 246.7 L550.0 248.3 L548.3 253.3 L546.7 258.3 L546.7 263.3 L547.5 268.3 L545.0 271.7 L541.7 273.3 L539.2 275.3" stroke-width="2.4"/>
<path d="M545.0 191.7 L547.5 196.7" stroke-width="2.4"/>
<path d="M556.7 246.7 L561.7 250.0 L565.0 253.3 L570.0 253.3 L572.5 250.0 L571.7 245.0 L572.5 240.8 L568.3 240.0 L565.0 238.3" stroke-width="2.4"/>
<path d="M553.3 235.8 L560.8 235.0 L560.0 240.8 L554.2 242.5 Z" stroke-width="3.6"/>
<path d="M550.0 220.8 L556.7 224.7 L561.7 225.0" stroke-width="3"/>
<path d="M603.3 221.3 L610.0 225.0 L615.0 226.3" stroke-width="3.4"/>
<path d="M590.8 235.8 L595.0 234.2 L597.5 235.0 L598.3 240.0 L600.0 244.2 L597.5 245.8 L594.2 242.5 L591.7 239.2 Z" stroke-width="2.6"/>
<path d="M613.3 215.0 L617.5 211.7 L622.5 210.8 L628.3 212.5 L633.3 215.0 L636.3 219.2 L635.0 223.3 L630.0 224.2 L625.0 225.8 L621.7 223.3 L618.3 219.2 Z" stroke-width="2.2"/>
<path d="M640.0 195.8 L643.7 197.0" stroke-width="3.6"/>
<path d="M646.7 191.7 L650.0 196.7 L648.3 201.7 L653.3 205.0 L651.7 210.0 L656.7 213.3 L660.0 216.7 L662.5 214.2 L660.0 208.3 L656.7 203.3 L655.0 198.3 L653.3 193.3 L650.0 192.5" stroke-width="3.2"/>
<path d="M646.7 203.3 L651.7 207.5" stroke-width="3.4"/>
<path d="M653.3 214.2 L659.2 216.7" stroke-width="3.4"/>
<path d="M580.0 198.3 L583.3 201.7 L581.7 208.3 L579.2 213.3 L581.7 215.8" stroke-width="4.4"/>
<path d="M585.0 201.7 L590.0 200.0 L595.0 198.3 L600.0 200.8 L606.7 203.3 L611.7 202.5 L613.3 206.7 L610.0 210.0 L605.0 210.8 L600.0 209.2 L595.0 206.7 L590.0 206.7 L585.8 210.0 L584.2 214.2 L590.0 215.0 L596.7 215.8 L603.3 215.0" stroke-width="5"/>
<path d="M591.7 195.0 L595.0 198.0" stroke-width="4"/>
<path d="M606.7 195.0 L613.3 198.3 L620.0 200.0" stroke-width="4"/>
<path d="M598.3 203.3 L606.7 206.7" stroke-width="4"/>
<path d="M610.0 200.0 L615.0 203.3" stroke-width="3.5"/>
<path d="M565.8 206.7 L573.3 206.3 L573.3 215.0 L565.8 215.3 Z" stroke-width="4"/>
<path d="M590.0 186.7 L596.7 188.3 L603.3 189.2 L610.0 189.2" stroke-width="3.6"/>
<path d="M650.0 184.2 L656.7 187.5 L663.3 190.0 L674.2 192.0" stroke-width="2.4"/>
<path d="M666.7 184.2 L674.2 186.7" stroke-width="2.4"/>
<path d="M674.2 235.0 L668.7 238.3 L674.2 241.7 Z" stroke-width="3"/>
<path d="M620.0 242.0 L626.7 242.5" stroke-width="3.8"/>
<path d="M550.0 282.5 L551.7 279.2 L552.5 283.3 Z" stroke-width="2.6"/>
<path d="M599.2 126.5 L606.7 130.2 L616.7 131.8 L622.5 132.7 L621.7 135.2 L628.3 138.5 L638.3 140.2 L650.0 141.8 L660.0 144.3 L670.0 147.7 L680.0 151.0 L690.0 155.2 L698.3 158.5 L700.8 161.8 L698.3 166.0 L693.3 168.5 L685.0 171.0 L675.0 171.0 L663.3 169.3 L653.3 167.7 L645.0 165.2 L638.3 163.5 L635.8 161.0" stroke-width="2.4"/>
<path d="M600.0 126.8 L608.3 128.5 L616.7 130.2 L622.5 131.8" stroke-width="3.4"/>
<path d="M623.3 136.8 L630.0 139.3 L637.5 139.3" stroke-width="3.6"/>
<path d="M600.0 131.8 L606.7 134.3 L615.0 134.0" stroke-width="3"/>
<path d="M698.3 167.7 L706.7 167.7 L713.3 169.3 L716.7 172.7 L720.0 172.7 L723.3 166.0 L724.2 159.3 L722.5 154.3 L720.0 149.3 L715.0 148.5" stroke-width="2.4"/>
<path d="M715.0 148.5 L720.0 148.5 L726.7 149.0" stroke-width="3"/>
<path d="M713.3 169.0 L716.7 172.3 L720.3 172.3" stroke-width="3"/>
<path d="M686.7 177.7 L690.8 181.0 L690.0 184.3 L683.3 182.7 L673.3 181.8 L666.7 181.0 L663.3 183.5 L666.7 187.7 L673.3 187.7 L671.7 184.3" stroke-width="2.4"/>
<path d="M635.8 161.0 L638.3 164.3 L645.0 169.3 L649.2 174.3 L650.0 179.3 L653.3 184.3 L657.5 186.8 L663.3 187.7" stroke-width="2.4"/>
<path d="M633.3 156.8 L637.5 152.7 L639.2 148.5" stroke-width="3.2"/>
<path d="M626.7 162.7 L633.3 161.0 L636.7 164.3" stroke-width="4.4"/>
<path d="M620.0 171.0 L626.7 173.5" stroke-width="4"/>
<path d="M628.3 175.2 L633.3 177.7" stroke-width="3.4"/>
<path d="M600.0 189.3 L610.0 190.2" stroke-width="3"/>
<path d="M646.7 191.8 L651.7 193.0" stroke-width="3"/>
<path d="M645.0 169.2 L650.0 175.0 L651.7 180.0 L653.3 185.0 L658.3 187.5 L663.3 189.2 L670.0 190.8 L675.0 188.3 L674.2 184.2 L670.0 181.7 L666.7 180.8 L663.3 182.5 L665.8 185.8 L671.7 186.7" stroke-width="2.4"/>
<path d="M675.0 184.2 L683.3 183.0 L693.3 182.5 L691.7 179.2 L686.7 176.7 L690.0 172.5 L696.7 169.2" stroke-width="2.4"/>
<path d="M668.3 236.7 L673.3 234.2 L678.3 235.0 L680.0 240.0 L676.7 243.3 L671.7 240.8 Z" stroke-width="3.6"/>
<path d="M670.0 223.7 L672.0 223.0 L673.0 225.0 L670.8 225.7 Z" stroke-width="2.4"/>
<path d="M684.2 227.5 L688.3 229.7" stroke-width="3"/>
<path d="M620.0 241.7 L627.5 242.0" stroke-width="3.4"/>
<path d="M715.8 170.8 L720.0 172.5 L720.8 170.0 Z" stroke-width="3"/>
<path d="M680.8 219.2 L682.5 221.7" stroke-width="2.6"/>
<path d="M378.3 358.3 L378.3 366.7 L377.5 373.3 L375.0 375.8 L370.0 376.3 L363.3 375.8 L356.7 375.0 L350.0 374.2 L343.3 375.0 L336.7 373.3 L330.0 372.5 L325.0 375.0 L320.0 377.5 L318.3 380.8 L320.8 385.0 L322.5 391.7 L322.5 400.0 L320.8 408.3 L318.3 413.3 L316.7 418.3 L320.8 420.0 L321.7 426.7 L320.8 433.3 L326.7 432.5 L335.0 431.7 L340.0 435.0 L341.7 440.0 L345.0 443.3 L348.3 440.8 L353.3 438.3 L361.7 436.7 L368.3 435.8 L373.3 434.2 L376.7 430.0 L381.7 426.7 L383.3 422.5 L388.3 419.2 L389.2 416.7 L385.0 413.3 L385.8 408.3 L390.0 403.3 L395.0 398.3 L400.0 395.8 L406.7 393.3 L411.7 390.0 L413.3 385.0 L411.7 380.0 L415.0 376.7 L420.0 375.0 L426.7 375.0 L434.2 377.0" stroke-width="2.4"/>
<path d="M320.8 420.0 L321.7 416.7" stroke-width="2.4"/>
<path d="M317.5 379.2 L320.8 385.0" stroke-width="3"/>
<path d="M333.3 465.0 L338.3 458.3 L341.7 451.7 L343.3 445.0 L345.0 443.3 L348.3 446.7 L353.3 450.0 L360.0 450.8 L366.7 450.0 L373.3 451.7 L378.3 448.3 L383.3 445.0 L390.0 441.7 L396.7 440.0 L403.3 438.3 L410.0 436.7 L416.7 435.8 L423.3 435.3" stroke-width="2.4"/>
<path d="M343.3 441.7 L346.7 444.2" stroke-width="3.4"/>
<path d="M405.8 410.0 L410.0 407.5 L414.2 409.2 L411.7 413.3 L408.3 413.3 Z" stroke-width="2.4"/>
<path d="M416.7 407.8 L420.8 407.0 L420.0 409.2 Z" stroke-width="2.6"/>
<path d="M398.7 415.0 L400.0 414.7 L400.0 419.0 L398.7 419.0 Z" stroke-width="2.6"/>
<path d="M342.5 408.3 L349.2 408.7" stroke-width="2.8"/>
<path d="M346.7 415.8 L351.7 412.5" stroke-width="2.6"/>
<path d="M386.7 395.0 L391.7 395.3" stroke-width="2.8"/>
<path d="M419.2 374.7 L425.0 375.8 L430.0 378.3 L435.0 379.2 L440.0 375.8 L445.0 372.5 L450.0 370.0 L454.2 367.5 L459.2 368.3 L463.3 370.8 L465.8 375.0 L467.5 379.2 L471.7 383.3 L476.7 388.3 L481.7 392.5 L486.7 395.8 L491.7 398.3 L496.7 400.8 L501.7 404.2 L505.8 408.3 L508.3 413.3 L509.2 418.3 L508.0 422.0 L505.8 424.7" stroke-width="2.4"/>
<path d="M505.8 424.7 L510.0 422.5 L513.3 420.0 L515.8 416.7 L516.7 412.5 L513.3 410.0 L512.5 405.8 L515.8 403.3 L520.0 403.3 L523.3 405.8 L525.8 406.7 L525.0 403.3 L521.7 400.0 L516.7 396.7 L511.7 394.2 L508.3 392.5 L509.2 390.0 L503.3 388.3 L498.3 385.0 L493.3 380.0 L491.7 375.0 L488.3 371.7 L485.0 369.2 L481.7 365.8 L480.0 361.7 L480.8 357.5 L484.2 355.8 L489.2 355.0 L491.7 356.7 L493.3 360.8 L496.7 364.2" stroke-width="2.4"/>
<path d="M495.0 359.2 L499.2 361.7 L498.3 365.8" stroke-width="4.6"/>
<path d="M498.3 365.0 L503.3 370.0 L508.3 375.0 L513.3 377.5 L520.0 380.0 L526.7 383.3 L533.3 387.5" stroke-width="3.8"/>
<path d="M533.3 387.5 L534.3 390.8" stroke-width="3.4"/>
<path d="M508.3 378.3 L516.7 380.0" stroke-width="4"/>
<path d="M453.3 383.3 L455.8 380.8 L459.2 380.0 L460.0 385.0 L459.2 390.0 L457.5 394.2 L454.2 393.3 L453.3 388.3 Z" stroke-width="2.2"/>
<path d="M451.7 400.0 L450.0 403.3 L450.8 408.3 L450.0 413.3 L452.5 415.8 L457.5 415.0 L460.8 411.7 L461.7 405.0 L460.8 399.2 L459.2 395.8 L455.8 396.7 Z" stroke-width="2.2"/>
<path d="M455.0 336.7 L461.7 339.2" stroke-width="3.4"/>
<path d="M434.2 350.8 L440.0 348.0" stroke-width="3.2"/>
<path d="M468.3 357.5 L470.0 354.2" stroke-width="3"/>
<path d="M518.3 346.7 L525.0 343.7" stroke-width="3.2"/>
<path d="M542.5 397.7 L547.5 398.7" stroke-width="4"/>
<path d="M482.5 425.0 L486.7 423.3 L493.3 423.3 L500.0 424.2 L505.0 422.5 L507.5 419.2 L505.0 426.7 L503.3 431.7 L502.5 435.8 L498.3 435.0 L493.3 431.7 L488.3 429.2 L483.3 427.5 Z" stroke-width="2.4"/>
<path d="M495.8 442.5 L498.0 442.5 L498.0 445.0 L495.8 445.0 Z" stroke-width="2.2"/>
<path d="M479.2 470.7 L485.0 471.7 L490.0 471.7 L495.0 474.2 L500.0 475.8 L504.2 478.3 L505.0 482.5 L508.3 485.0 L513.3 485.8 L518.3 487.5 L523.3 490.0 L528.3 493.3 L533.3 495.0 L537.5 493.3 L539.2 489.2 L538.3 483.3 L539.2 478.3 L542.5 474.2 L546.7 471.7 L551.7 470.8 L556.7 470.8 L560.0 473.3 L563.3 476.7 L570.0 478.3 L575.0 480.0 L578.3 483.3 L585.0 484.2 L593.3 485.8 L600.0 487.5 L606.7 490.0 L614.2 489.0" stroke-width="2.4"/>
<path d="M532.5 388.8 L533.8 395.0 L535.0 401.2 L536.9 407.5 L540.0 411.2 L543.1 415.0 L545.0 418.8 L546.9 421.2 L543.8 423.1 L545.0 425.6" stroke-width="2.6"/>
<path d="M546.9 421.2 L552.5 421.2 L557.5 421.9 L561.2 423.1 L564.4 425.0 L567.5 426.2" stroke-width="4.2"/>
<path d="M545.0 423.8 L546.9 427.5 L549.4 431.2 L550.6 435.0 L552.5 437.5 L556.2 438.8 L558.8 440.6 L561.2 442.5 L563.1 445.0 L566.2 446.9" stroke-width="2.8"/>
<path d="M562.5 425.0 L561.2 428.8 L560.0 432.5 L561.2 436.2 L562.5 440.0 L563.1 443.8" stroke-width="4.4"/>
<path d="M551.2 427.5 L556.2 430.0 L558.8 433.8" stroke-width="3"/>
<path d="M558.8 401.9 L561.2 405.0 L563.8 408.8 L563.1 412.5 L561.2 415.0 L563.8 417.5 L567.5 420.0 L571.2 422.5 L575.0 426.2 L577.5 428.8" stroke-width="3.8"/>
<path d="M569.4 405.0 L572.5 408.8 L573.8 412.5 L575.0 416.2 L576.2 419.4" stroke-width="3"/>
<path d="M558.8 401.9 L561.2 399.4 L566.2 398.8 L570.0 400.6 L572.5 398.8 L576.2 397.5 L580.0 399.4 L582.5 401.2 L580.0 403.8 L577.5 406.2 L578.8 408.8" stroke-width="2.8"/>
<path d="M561.2 402.5 L565.0 403.8 L568.1 402.5" stroke-width="4"/>
<path d="M578.8 400.0 L581.2 403.8 L580.0 407.5" stroke-width="3"/>
<path d="M582.5 401.2 L585.0 400.0 L590.0 399.4 L595.0 398.8 L600.0 398.1 L605.0 399.4 L610.0 400.0 L615.0 399.4 L620.6 398.8" stroke-width="2.4"/>
<path d="M587.5 412.5 L590.0 416.2 L592.5 420.0 L591.2 423.8 L593.8 427.5 L592.5 431.2 L595.0 433.8 L598.8 435.0 L602.5 437.5 L607.5 440.0 L612.5 441.2 L616.2 440.0 L620.6 437.2" stroke-width="2.6"/>
<path d="M582.5 411.9 L587.5 413.1 L592.5 412.5" stroke-width="4.6"/>
<path d="M581.2 420.0 L586.2 419.4 L591.9 420.6" stroke-width="4.6"/>
<path d="M587.5 415.0 L589.4 418.8" stroke-width="4.4"/>
<path d="M590.0 425.0 L593.1 427.5" stroke-width="4"/>
<path d="M593.1 432.5 L597.5 435.6 L600.0 440.0 L598.1 443.1" stroke-width="4.4"/>
<path d="M591.9 448.8 L593.8 445.0" stroke-width="3.2"/>
<path d="M565.6 447.1 L570.0 448.2 L575.0 449.5 L580.0 450.1 L585.0 450.1 L586.2 451.8 L581.2 452.4 L575.0 452.4 L570.0 451.8 L567.5 450.0 Z" stroke-width="2.6"/>
<path d="M567.5 448.8 L575.0 450.9 L585.0 451.0" stroke-width="3"/>
<path d="M520.0 400.0 L523.8 402.5 L526.2 406.2 L525.0 407.5 L522.5 404.4 L520.0 402.5" stroke-width="2"/>
<path d="M542.5 397.1 L547.5 398.8" stroke-width="4"/>
<path d="M651.7 328.3 L653.3 333.3 L652.5 337.5 L646.7 338.3 L643.3 341.7 L638.3 344.2 L633.3 345.8 L628.3 346.7 L627.5 342.5 L626.7 346.7 L621.7 347.5 L616.7 350.0 L615.0 352.5 L611.7 355.8 L609.2 360.0 L605.8 362.5 L604.2 366.7 L603.3 371.7 L600.8 375.8 L597.5 379.2 L595.8 384.2 L597.5 388.3 L599.2 392.5 L602.5 395.8 L607.5 397.5 L612.5 396.7 L618.3 395.0 L625.0 392.5 L631.7 390.0 L638.3 388.3 L645.0 388.3 L651.7 389.2 L656.7 391.7 L661.7 394.2 L666.7 395.8 L673.3 397.5 L680.0 397.5 L686.7 397.5 L694.2 397.5" stroke-width="2.4"/>
<path d="M633.3 355.0 L638.3 353.3 L643.3 351.7 L648.3 350.8 L653.3 353.3 L656.7 356.7 L660.0 359.2 L655.0 360.0 L650.8 361.7 L646.7 364.2 L641.7 365.8 L640.8 361.7 L636.7 358.3 L633.3 356.7 Z" stroke-width="2.4"/>
<path d="M653.3 353.3 L658.3 350.0 L663.3 348.3 L670.0 346.7 L676.7 344.2 L683.3 342.5" stroke-width="2.4"/>
<path d="M660.0 359.2 L666.7 356.7 L673.3 355.0 L676.7 351.7 L675.0 348.3 L680.0 345.8 L683.3 343.3" stroke-width="2.4"/>
<path d="M660.0 359.2 L666.7 363.3 L673.3 366.7 L680.0 371.7 L686.7 376.7 L693.3 380.8 L698.3 384.2 L702.5 387.5 L703.7 390.8 L702.5 394.2 L699.2 396.3 L694.2 397.5" stroke-width="2.4"/>
<path d="M652.5 330.8 L646.7 327.5 L640.0 324.2 L633.3 321.7 L625.8 318.7" stroke-width="3"/>
<path d="M627.5 342.0 L628.3 346.7 L631.7 350.0 L635.0 351.7" stroke-width="3.6"/>
<path d="M615.0 350.8 L618.3 349.2" stroke-width="3"/>
<path d="M559.2 400.0 L565.0 401.7 L571.7 398.3 L578.3 397.5 L583.3 400.0 L590.0 400.8 L595.0 400.0 L600.0 398.3 L602.5 395.8" stroke-width="2.4"/>
<path d="M581.7 403.3 L588.3 404.2 L595.0 403.3 L601.7 401.7 L608.3 400.8 L613.3 400.0 L612.5 396.7" stroke-width="2.4"/>
<path d="M638.3 415.0 L641.7 418.3 L640.0 420.8 Z" stroke-width="3"/>
<path d="M620.0 424.2 L621.7 426.7" stroke-width="3"/>
<path d="M625.0 425.8 L626.7 428.3" stroke-width="3"/>
<path d="M593.2 432.2 L597.3 434.2 L601.5 435.8 L605.7 438.3 L610.7 440.8 L615.7 439.2 L619.0 435.8 L622.3 435.0 L627.3 436.7 L632.3 440.0 L637.3 441.7 L642.3 440.0 L647.3 436.7 L652.3 436.7 L657.3 435.8 L660.7 435.8 L659.8 439.2 L658.2 440.8 L658.2 446.7 L659.0 453.3 L658.2 457.5 L655.7 461.7 L653.2 466.7 L651.5 473.3 L649.8 479.2 L647.3 484.2 L643.2 486.7 L637.3 486.7 L632.3 487.5 L627.3 484.2 L622.3 483.3 L617.3 484.2 L612.3 486.7 L607.3 489.2 L602.3 487.5 L597.3 485.8 L593.2 484.0" stroke-width="2.4"/>
<path d="M594.0 432.5 L599.0 436.7 L597.3 441.7" stroke-width="4.2"/>
<path d="M657.3 435.8 L660.7 436.7" stroke-width="3.4"/>
<path d="M630.7 452.5 L633.2 450.0 L638.2 448.3 L644.0 446.7 L648.2 445.8 L645.7 449.2 L643.2 452.5 L638.2 455.0 L633.2 455.0 Z" stroke-width="2.4"/>
<path d="M619.0 424.2 L621.5 426.7" stroke-width="3"/>
<path d="M624.8 426.7 L626.5 428.3" stroke-width="2.8"/>
<path d="M345.0 443.3 L342.5 450.0 L340.0 456.7 L335.0 461.7 L328.3 465.0 L323.3 468.3 L319.2 473.3 L317.5 479.2 L315.0 484.2 L315.0 490.0 L315.8 495.0 L314.2 500.0 L310.0 505.0 L305.0 509.2 L300.0 513.3 L295.0 515.0 L290.0 515.8 L288.3 520.0 L286.7 525.0 L283.3 529.2 L279.2 531.7 L277.5 536.7 L275.8 543.3" stroke-width="2.4"/>
<path d="M257.5 472.5 L260.8 471.0 L264.2 472.7 L264.2 475.0 L260.8 474.2 Z" stroke-width="2.8"/>
<path d="M258.3 514.2 L263.3 512.5 L266.7 510.8" stroke-width="3.6"/>
<path d="M280.0 515.0 L283.3 510.0 L286.7 504.2" stroke-width="4"/>
<path d="M172.3 420.8 L177.8 421.7" stroke-width="3.6"/>
<path d="M181.5 418.0 L186.2 419.0" stroke-width="3.4"/>
<path d="M192.8 426.7 L200.3 427.5" stroke-width="4"/>
<path d="M704.2 337.8 L708.3 335.7 L715.0 330.3 L719.2 325.0 L716.7 322.0" stroke-width="3.8"/>
<path d="M722.5 329.5 L725.0 323.7" stroke-width="3"/>
<path d="M706.7 420.8 L713.3 420.0 L716.7 417.5" stroke-width="3.2"/>
<path d="M713.3 247.3 L716.7 249.0" stroke-width="2.2"/>
<path d="M455.0 337.0 L461.7 339.5" stroke-width="3.4"/>
<path d="M433.3 351.2 L440.8 348.3" stroke-width="3.2"/>
<path d="M468.3 357.8 L470.0 353.7" stroke-width="2.8"/>
<path d="M386.7 394.5 L390.8 395.3" stroke-width="2.6"/>
<path d="M418.3 303.7 L422.0 298.7 L422.0 304.5 Z" stroke-width="2"/>
<path d="M391.7 304.5 L400.0 299.5" stroke-width="3"/>
<path d="M360.0 304.5 L370.0 301.2" stroke-width="3"/>
<path d="M334.2 206.4 L339.2 205.4" stroke-width="3.6"/>
<path d="M337.0 206.2 L337.6 213.0" stroke-width="4.4"/>
<path d="M381.6 219.6 L379.5 223.0 L377.4 226.8" stroke-width="4.8"/>
<path d="M362.2 235.0 L368.0 235.6" stroke-width="4.4"/>
<path d="M363.5 233.5 L365.0 234.5" stroke-width="3"/>
<path d="M429.8 238.3 L432.8 238.6" stroke-width="2"/>
<path d="M428.8 235.7 L425.6 235.3" stroke-width="2"/>
<path d="M427.9 233.6 L424.9 232.9" stroke-width="2"/>
<path d="M427.1 231.0 L430.7 229.4" stroke-width="2"/>
<path d="M425.8 226.7 L423.7 226.4" stroke-width="2"/>
<path d="M425.5 224.6 L422.2 226.4" stroke-width="2"/>
<path d="M425.0 220.1 L423.6 219.7" stroke-width="2"/>
<path d="M425.1 219.2 L428.1 220.3" stroke-width="2"/>
<path d="M425.6 214.0 L427.7 215.6" stroke-width="2"/>
<path d="M425.7 213.4 L423.3 214.2" stroke-width="2"/>
<path d="M426.0 210.7 L429.9 212.7" stroke-width="2"/>
<path d="M428.4 207.4 L429.6 209.8" stroke-width="2"/>
<path d="M430.1 206.4 L429.9 203.7" stroke-width="2"/>
<path d="M432.7 204.9 L432.1 209.2" stroke-width="2"/>
<path d="M434.7 203.9 L434.6 205.7" stroke-width="2"/>
<path d="M437.3 202.6 L436.4 199.6" stroke-width="2"/>
<path d="M439.6 201.5 L437.7 200.3" stroke-width="2"/>
<path d="M441.4 200.6 L438.7 197.0" stroke-width="2"/>
<path d="M441.8 200.3 L439.1 197.2" stroke-width="2"/>
<path d="M445.7 198.2 L444.0 194.5" stroke-width="2"/>
<path d="M448.2 196.6 L449.4 198.9" stroke-width="2"/>
<path d="M451.1 195.1 L451.4 192.9" stroke-width="2"/>
<path d="M452.0 194.6 L452.1 193.0" stroke-width="2"/>
<path d="M456.8 193.1 L458.1 195.0" stroke-width="2"/>
<path d="M457.0 193.1 L458.5 196.9" stroke-width="2"/>
<path d="M460.3 192.2 L462.9 195.4" stroke-width="2"/>
<path d="M463.8 189.6 L462.2 186.7" stroke-width="2"/>
<path d="M466.6 187.2 L468.3 189.6" stroke-width="2"/>
<path d="M467.9 185.9 L468.8 190.1" stroke-width="2"/>
<path d="M469.2 184.5 L467.9 181.8" stroke-width="2"/>
<path d="M472.5 181.9 L473.6 183.9" stroke-width="2"/>
<path d="M474.1 180.7 L475.1 181.9" stroke-width="2"/>
<path d="M476.1 178.9 L477.3 181.0" stroke-width="2"/>
<path d="M476.7 178.3 L476.4 176.8" stroke-width="2"/>
<path d="M478.8 176.2 L481.3 177.3" stroke-width="2"/>
<path d="M480.3 174.7 L483.5 176.6" stroke-width="2"/>
<path d="M482.3 172.7 L481.5 169.0" stroke-width="2"/>
<path d="M484.5 170.5 L483.5 169.1" stroke-width="2"/>
<path d="M426.6 209.0 L425.9 205.3" stroke-width="2"/>
<path d="M429.4 207.0 L429.2 204.9" stroke-width="2"/>
<path d="M430.2 206.5 L428.5 204.3" stroke-width="2"/>
<path d="M432.2 205.4 L430.9 203.7" stroke-width="2"/>
<path d="M434.4 204.1 L437.7 206.5" stroke-width="2"/>
<path d="M437.6 202.2 L439.1 203.2" stroke-width="2"/>
<path d="M438.0 202.0 L437.2 198.0" stroke-width="2"/>
<path d="M441.9 199.9 L440.7 198.5" stroke-width="2"/>
<path d="M443.9 198.9 L441.6 196.8" stroke-width="2"/>
<path d="M445.9 197.9 L447.2 199.4" stroke-width="2"/>
<path d="M446.7 197.5 L445.4 196.1" stroke-width="2"/>
<path d="M448.7 196.5 L447.3 192.8" stroke-width="2"/>
<path d="M451.4 195.1 L451.5 196.7" stroke-width="2"/>
<path d="M453.0 194.4 L454.1 196.4" stroke-width="2"/>
<path d="M454.4 193.7 L454.5 191.5" stroke-width="2"/>
<path d="M456.7 192.5 L458.2 194.6" stroke-width="2"/>
<path d="M459.2 191.3 L458.9 189.9" stroke-width="2"/>
<path d="M461.3 189.9 L460.0 185.8" stroke-width="2"/>
<path d="M464.0 188.0 L466.4 191.6" stroke-width="2"/>
<path d="M466.0 186.6 L467.9 187.6" stroke-width="2"/>
<path d="M467.8 185.4 L471.4 186.9" stroke-width="2"/>
<path d="M470.4 183.4 L471.4 184.7" stroke-width="2"/>
<path d="M471.4 182.7 L471.6 184.5" stroke-width="2"/>
<path d="M474.0 180.8 L475.8 182.3" stroke-width="2"/>
<path d="M476.3 178.7 L477.0 181.9" stroke-width="2"/>
<path d="M476.9 178.1 L478.4 178.4" stroke-width="2"/>
<path d="M479.6 175.4 L481.4 177.1" stroke-width="2"/>
<path d="M480.7 174.1 L479.9 172.8" stroke-width="2"/>
<path d="M482.2 172.0 L480.8 170.6" stroke-width="2"/>
<path d="M484.6 168.8 L486.1 169.6" stroke-width="2"/>
<path d="M485.1 168.2 L482.9 166.7" stroke-width="2"/>
<path d="M488.3 163.9 L489.8 167.6" stroke-width="2"/>
<path d="M489.5 162.4 L491.7 163.3" stroke-width="2"/>
<path d="M490.7 160.9 L491.5 162.5" stroke-width="2"/>
<path d="M492.6 158.7 L493.3 160.4" stroke-width="2"/>
<path d="M493.6 157.4 L496.5 158.0" stroke-width="2"/>
<path d="M496.3 154.3 L495.0 152.2" stroke-width="2"/>
<path d="M497.3 153.2 L498.9 156.4" stroke-width="2"/>
<path d="M498.8 151.4 L500.1 155.7" stroke-width="2"/>
<path d="M500.8 149.5 L499.7 147.9" stroke-width="2"/>
<path d="M503.9 147.5 L505.3 149.5" stroke-width="2"/>
<path d="M506.3 146.1 L508.5 148.6" stroke-width="2"/>
<path d="M508.1 145.1 L510.3 148.1" stroke-width="2"/>
<path d="M510.8 143.8 L510.3 147.9" stroke-width="2"/>
<path d="M513.2 142.5 L511.0 140.5" stroke-width="2"/>
<path d="M514.1 142.2 L514.7 146.2" stroke-width="2"/>
<path d="M517.2 141.1 L516.4 137.5" stroke-width="2"/>
<path d="M519.9 140.1 L521.5 142.5" stroke-width="2"/>
<path d="M499.0 150.4 L497.6 149.6" stroke-width="2"/>
<path d="M501.5 148.9 L501.4 146.7" stroke-width="2"/>
<path d="M502.9 148.1 L504.2 148.8" stroke-width="2"/>
<path d="M504.8 147.0 L504.8 144.6" stroke-width="2"/>
<path d="M508.1 145.1 L507.0 142.5" stroke-width="2"/>
<path d="M509.8 144.3 L508.3 140.7" stroke-width="2"/>
<path d="M511.4 143.5 L510.5 141.3" stroke-width="2"/>
<path d="M514.6 142.0 L513.8 139.0" stroke-width="2"/>
<path d="M517.0 141.1 L516.4 139.0" stroke-width="2"/>
<path d="M519.2 140.3 L519.2 142.9" stroke-width="2"/>
<path d="M521.0 139.7 L522.8 143.1" stroke-width="2"/>
<path d="M524.0 139.0 L521.8 136.7" stroke-width="2"/>
<path d="M525.1 138.7 L525.0 141.3" stroke-width="2"/>
<path d="M527.3 138.2 L526.4 134.3" stroke-width="2"/>
<path d="M529.3 137.7 L530.0 139.7" stroke-width="2"/>
<path d="M533.2 136.7 L533.8 138.0" stroke-width="2"/>
<path d="M534.1 136.6 L535.7 138.6" stroke-width="2"/>
<path d="M535.8 136.4 L534.6 134.8" stroke-width="2"/>
<path d="M539.3 135.9 L540.5 138.7" stroke-width="2"/>
<path d="M540.9 135.6 L541.7 132.7" stroke-width="2"/>
<path d="M543.0 135.1 L545.0 137.2" stroke-width="2"/>
<path d="M546.2 134.3 L545.6 132.8" stroke-width="2"/>
<path d="M548.7 133.4 L547.6 131.0" stroke-width="2"/>
<path d="M550.1 132.9 L549.8 136.5" stroke-width="2"/>
<path d="M551.7 132.3 L552.1 134.6" stroke-width="2"/>
<path d="M554.2 131.5 L553.1 130.0" stroke-width="2"/>
<path d="M556.1 131.0 L555.8 132.8" stroke-width="2"/>
<path d="M558.2 130.5 L557.5 128.6" stroke-width="2"/>
<path d="M560.8 129.8 L560.8 127.0" stroke-width="2"/>
<path d="M563.4 129.2 L562.5 126.4" stroke-width="2"/>
<path d="M566.4 128.4 L567.8 132.0" stroke-width="2"/>
<path d="M567.5 128.2 L569.1 130.3" stroke-width="2"/>
<path d="M569.0 128.0 L568.0 126.6" stroke-width="2"/>
<path d="M572.4 127.6 L572.3 126.1" stroke-width="2"/>
<path d="M575.4 127.5 L576.7 124.9" stroke-width="2"/>
<path d="M576.9 127.5 L576.1 128.9" stroke-width="2"/>
<path d="M579.1 127.5 L580.1 125.2" stroke-width="2"/>
<path d="M582.2 127.8 L582.5 130.3" stroke-width="2"/>
<path d="M582.5 127.8 L582.2 131.1" stroke-width="2"/>
<path d="M586.0 128.2 L587.6 126.2" stroke-width="2"/>
<path d="M587.8 128.2 L588.1 126.6" stroke-width="2"/>
<path d="M589.6 128.0 L589.9 125.0" stroke-width="2"/>
<path d="M591.7 127.7 L591.0 125.6" stroke-width="2"/>
<path d="M593.8 127.4 L593.7 130.2" stroke-width="2"/>
<path d="M596.9 127.1 L597.7 123.7" stroke-width="2"/>
<path d="M599.6 126.7 L598.1 123.8" stroke-width="2"/>
<path d="M601.1 127.1 L603.2 124.6" stroke-width="2"/>
<path d="M603.3 127.9 L602.8 129.6" stroke-width="2"/>
<path d="M606.5 129.1 L607.1 133.0" stroke-width="2"/>
<path d="M606.9 129.2 L607.2 131.7" stroke-width="2"/>
<path d="M610.3 130.1 L611.1 126.4" stroke-width="2"/>
<path d="M612.6 130.6 L614.6 127.9" stroke-width="2"/>
<path d="M613.6 130.9 L613.8 128.6" stroke-width="2"/>
<path d="M616.0 131.2 L617.2 134.3" stroke-width="2"/>
<path d="M619.9 131.7 L619.9 134.9" stroke-width="2"/>
<path d="M426.3 436.7 L434.7 434.2 L438.0 432.5 L443.0 434.2 L449.7 433.3 L456.3 434.2 L461.3 430.8 L466.3 431.7 L469.7 435.0 L468.0 440.0 L469.7 445.0 L471.3 450.0 L472.2 454.2 L468.0 456.7 L463.8 460.0 L466.3 464.2 L471.3 466.7 L476.3 470.0 L481.3 471.7 L486.3 471.7" stroke-width="2.4"/>
<path d="M463.0 459.2 L466.3 463.3" stroke-width="3.2"/>
<path d="M629.9 487.4 L631.8 493.7 L632.4 499.9 L634.9 506.1 L638.0 512.3 L641.8 517.3 L643.6 519.8" stroke-width="3"/>
<path d="M640.5 517.3 L643.0 523.5 L645.5 529.8 L648.0 536.0 L650.5 541.6 L651.7 544.7" stroke-width="2.4"/>
<path d="M650.5 501.8 L649.9 506.1 L648.0 511.1 L646.7 515.5 L645.5 517.9" stroke-width="2.8"/>
<path d="M647.4 515.5 L651.1 513.6 L654.2 516.7 L657.3 522.3 L660.4 527.9 L663.5 533.5 L666.7 539.1 L667.9 542.0 L669.2 544.7" stroke-width="2.4"/>
<path d="M662.3 534.8 L665.4 537.9" stroke-width="3"/>
<path d="M634.3 507.4 L636.8 511.1" stroke-width="3.4"/>
<path d="M441.7 202.8 L451.7 197.8 L461.7 192.8 L470.0 187.0 L476.7 182.0 L481.7 177.0 L486.7 170.3 L491.7 163.7 L496.7 157.8 L501.7 152.0 L508.3 147.8 L515.0 144.5 L521.7 142.0" stroke-width="4.2"/>
<path d="M442.7 203.3 L443.6 205.9" stroke-width="2"/>
<path d="M446.0 201.7 L446.2 203.2" stroke-width="2"/>
<path d="M449.4 200.0 L450.4 202.1" stroke-width="2"/>
<path d="M450.4 199.5 L451.0 200.3" stroke-width="2"/>
<path d="M453.8 197.8 L453.9 199.0" stroke-width="2"/>
<path d="M455.4 197.0 L456.8 197.8" stroke-width="2"/>
<path d="M459.8 194.8 L459.9 197.6" stroke-width="2"/>
<path d="M461.4 194.0 L462.1 194.9" stroke-width="2"/>
<path d="M463.7 192.5 L463.8 193.9" stroke-width="2"/>
<path d="M466.1 190.8 L466.5 192.2" stroke-width="2"/>
<path d="M468.2 189.4 L470.3 192.0" stroke-width="2"/>
<path d="M471.9 186.7 L473.1 188.2" stroke-width="2"/>
<path d="M473.3 185.7 L473.5 186.8" stroke-width="2"/>
<path d="M475.6 183.9 L478.1 185.6" stroke-width="2"/>
<path d="M479.8 180.2 L481.3 183.1" stroke-width="2"/>
<path d="M481.7 178.3 L482.9 180.4" stroke-width="2"/>
<path d="M482.5 177.4 L483.7 179.3" stroke-width="2"/>
<path d="M484.3 175.0 L485.8 178.0" stroke-width="2"/>
<path d="M486.3 172.3 L488.0 173.4" stroke-width="2"/>
<path d="M488.0 170.1 L491.0 171.8" stroke-width="2"/>
<path d="M489.0 168.7 L489.8 169.7" stroke-width="2"/>
<path d="M492.3 164.3 L494.1 165.7" stroke-width="2"/>
<path d="M493.7 162.7 L496.4 163.8" stroke-width="2"/>
<path d="M496.4 159.6 L497.9 161.5" stroke-width="2"/>
<path d="M497.8 158.0 L499.1 158.7" stroke-width="2"/>
<path d="M502.2 152.9 L503.4 154.3" stroke-width="2"/>
<path d="M503.0 152.2 L504.2 152.9" stroke-width="2"/>
<path d="M506.4 150.1 L508.3 152.4" stroke-width="2"/>
<path d="M508.3 148.9 L508.5 151.6" stroke-width="2"/>
<path d="M512.2 146.9 L511.9 148.9" stroke-width="2"/>
<path d="M515.5 145.2 L515.5 147.7" stroke-width="2"/>
<path d="M517.3 144.6 L518.5 146.1" stroke-width="2"/>
<path d="M521.9 142.8 L523.0 143.7" stroke-width="2"/>
<ellipse cx="339.4" cy="275.0" rx="1.8" ry="1.8" fill="#000" stroke="none"/>
<ellipse cx="328.1" cy="285.0" rx="1.6" ry="1.6" fill="#000" stroke="none"/>
<ellipse cx="326.9" cy="278.8" rx="1.5" ry="1.5" fill="#000" stroke="none"/>
<ellipse cx="320.0" cy="286.9" rx="1.5" ry="1.5" fill="#000" stroke="none"/>
<ellipse cx="325.0" cy="290.0" rx="1.5" ry="1.5" fill="#000" stroke="none"/>
<ellipse cx="355.0" cy="278.8" rx="1.8" ry="1.8" fill="#000" stroke="none"/>
<ellipse cx="355.0" cy="287.5" rx="2" ry="2" fill="#000" stroke="none"/>
<ellipse cx="365.0" cy="280.6" rx="1.6" ry="1.6" fill="#000" stroke="none"/>
<ellipse cx="385.0" cy="283.1" rx="2.2" ry="2" fill="#000" stroke="none"/>
<ellipse cx="327.5" cy="285.0" rx="1.5" ry="1.5" fill="#000" stroke="none"/>
<ellipse cx="323.3" cy="287.5" rx="1.3" ry="1.3" fill="#000" stroke="none"/>
<ellipse cx="368.3" cy="320.8" rx="1.5" ry="1.5" fill="#000" stroke="none"/>
<ellipse cx="358.3" cy="379.7" rx="1.5" ry="1.5" fill="#000" stroke="none"/>
<ellipse cx="362.0" cy="381.0" rx="1.3" ry="1.3" fill="#000" stroke="none"/>
<ellipse cx="378.3" cy="310.3" rx="1.8" ry="1.5" fill="#000" stroke="none"/>
<ellipse cx="500.0" cy="270.0" rx="2" ry="2" fill="#000" stroke="none"/>
<ellipse cx="489.2" cy="212.5" rx="2.2" ry="1.6" fill="#000" stroke="none" transform="rotate(30 489.2 212.5)"/>
<ellipse cx="499.2" cy="218.3" rx="2.4" ry="1.8" fill="#000" stroke="none" transform="rotate(20 499.2 218.3)"/>
<ellipse cx="536.7" cy="224.2" rx="2.6" ry="2" fill="#000" stroke="none" transform="rotate(-20 536.7 224.2)"/>
<ellipse cx="490.8" cy="254.2" rx="1.8" ry="1.6" fill="#000" stroke="none"/>
<ellipse cx="499.2" cy="257.0" rx="1.6" ry="1.6" fill="#000" stroke="none"/>
<ellipse cx="485.0" cy="287.5" rx="1.4" ry="1.4" fill="#000" stroke="none"/>
<ellipse cx="486.7" cy="295.0" rx="1.6" ry="1.4" fill="#000" stroke="none"/>
<ellipse cx="493.3" cy="298.3" rx="1.4" ry="1.4" fill="#000" stroke="none"/>
<ellipse cx="496.7" cy="301.7" rx="1.4" ry="1.4" fill="#000" stroke="none"/>
<ellipse cx="470.8" cy="250.8" rx="1.6" ry="1.6" fill="#000" stroke="none"/>
<ellipse cx="486.2" cy="193.8" rx="2.4" ry="2" fill="#000" stroke="none"/>
<ellipse cx="475.0" cy="201.9" rx="1.8" ry="1.6" fill="#000" stroke="none"/>
<ellipse cx="478.8" cy="175.0" rx="1.6" ry="1.6" fill="#000" stroke="none"/>
<ellipse cx="496.2" cy="174.4" rx="1.6" ry="1.4" fill="#000" stroke="none"/>
<ellipse cx="485.0" cy="193.3" rx="2.2" ry="1.8" fill="#000" stroke="none"/>
<ellipse cx="496.7" cy="197.5" rx="2.4" ry="2" fill="#000" stroke="none"/>
<ellipse cx="475.8" cy="202.5" rx="2" ry="1.6" fill="#000" stroke="none"/>
<ellipse cx="489.2" cy="212.5" rx="2.4" ry="1.6" fill="#000" stroke="none" transform="rotate(30 489.2 212.5)"/>
<ellipse cx="499.2" cy="218.3" rx="2.4" ry="1.8" fill="#000" stroke="none" transform="rotate(20 499.2 218.3)"/>
<ellipse cx="469.2" cy="217.5" rx="2.6" ry="1.8" fill="#000" stroke="none" transform="rotate(30 469.2 217.5)"/>
<ellipse cx="453.3" cy="209.2" rx="2.4" ry="1.2" fill="#000" stroke="none"/>
<ellipse cx="536.7" cy="224.2" rx="2.4" ry="2" fill="#000" stroke="none" transform="rotate(-20 536.7 224.2)"/>
<ellipse cx="493.3" cy="174.2" rx="2" ry="1.5" fill="#000" stroke="none"/>
<ellipse cx="665.8" cy="205.0" rx="2.4" ry="2.4" fill="#000" stroke="none"/>
<ellipse cx="670.8" cy="224.2" rx="2.6" ry="2.2" fill="#000" stroke="none"/>
<ellipse cx="569.2" cy="272.5" rx="1.8" ry="1.8" fill="#000" stroke="none"/>
<ellipse cx="540.0" cy="223.7" rx="1.6" ry="1.8" fill="#000" stroke="none"/>
<ellipse cx="656.7" cy="180.5" rx="1.8" ry="1.8" fill="#000" stroke="none"/>
<ellipse cx="665.8" cy="205.0" rx="2" ry="2.2" fill="#000" stroke="none"/>
<ellipse cx="680.0" cy="214.2" rx="2" ry="2.4" fill="#000" stroke="none"/>
<ellipse cx="655.8" cy="180.8" rx="2" ry="1.6" fill="#000" stroke="none"/>
<ellipse cx="343.0" cy="392.7" rx="2.2" ry="2.2" fill="#000" stroke="none"/>
<ellipse cx="368.0" cy="390.0" rx="1.4" ry="1.4" fill="#000" stroke="none"/>
<ellipse cx="368.3" cy="402.5" rx="1.6" ry="2.6" fill="#000" stroke="none"/>
<ellipse cx="364.2" cy="426.0" rx="1.5" ry="1.4" fill="#000" stroke="none"/>
<ellipse cx="360.0" cy="380.3" rx="2.2" ry="1.6" fill="#000" stroke="none" transform="rotate(25 360.0 380.3)"/>
<ellipse cx="466.7" cy="345.8" rx="1.5" ry="1.5" fill="#000" stroke="none"/>
<ellipse cx="498.0" cy="346.7" rx="1.5" ry="1.5" fill="#000" stroke="none"/>
<ellipse cx="514.2" cy="337.0" rx="1.6" ry="2" fill="#000" stroke="none"/>
<ellipse cx="420.0" cy="407.5" rx="1.8" ry="2" fill="#000" stroke="none"/>
<ellipse cx="500.0" cy="420.8" rx="1.4" ry="1.4" fill="#000" stroke="none"/>
<ellipse cx="503.3" cy="417.8" rx="1.3" ry="1.3" fill="#000" stroke="none"/>
<ellipse cx="461.7" cy="379.7" rx="1.4" ry="1.4" fill="#000" stroke="none"/>
<ellipse cx="465.8" cy="383.0" rx="1.3" ry="1.3" fill="#000" stroke="none"/>
<ellipse cx="486.7" cy="399.2" rx="1.3" ry="1.3" fill="#000" stroke="none"/>
<ellipse cx="450.0" cy="400.8" rx="1.5" ry="2" fill="#000" stroke="none"/>
<ellipse cx="502.5" cy="417.5" rx="1.4" ry="1.4" fill="#000" stroke="none"/>
<ellipse cx="500.0" cy="420.8" rx="1.3" ry="1.3" fill="#000" stroke="none"/>
<ellipse cx="570.0" cy="454.0" rx="1.6" ry="1.4" fill="#000" stroke="none"/>
<ellipse cx="575.0" cy="433.1" rx="1.6" ry="1.4" fill="#000" stroke="none"/>
<ellipse cx="578.8" cy="434.4" rx="1.8" ry="1.5" fill="#000" stroke="none"/>
<ellipse cx="582.5" cy="433.8" rx="1.5" ry="1.5" fill="#000" stroke="none"/>
<ellipse cx="580.6" cy="438.1" rx="1.6" ry="1.4" fill="#000" stroke="none"/>
<ellipse cx="586.2" cy="438.1" rx="1.6" ry="1.6" fill="#000" stroke="none"/>
<ellipse cx="576.9" cy="436.9" rx="1.3" ry="1.3" fill="#000" stroke="none"/>
<ellipse cx="573.8" cy="431.2" rx="1.3" ry="1.3" fill="#000" stroke="none"/>
<ellipse cx="663.2" cy="455.0" rx="1.6" ry="1.4" fill="#000" stroke="none"/>
<ellipse cx="655.7" cy="472.5" rx="1.3" ry="1.5" fill="#000" stroke="none"/>
<ellipse cx="654.8" cy="484.2" rx="1.6" ry="3.2" fill="#000" stroke="none"/>
<ellipse cx="618.2" cy="502.5" rx="2.4" ry="1.3" fill="#000" stroke="none"/>
<ellipse cx="639.0" cy="420.0" rx="2.4" ry="1.6" fill="#000" stroke="none"/>
<ellipse cx="713.2" cy="460.8" rx="2.4" ry="3.6" fill="#000" stroke="none" transform="rotate(-20 713.2 460.8)"/>
<ellipse cx="716.5" cy="472.5" rx="2.4" ry="3.4" fill="#000" stroke="none" transform="rotate(-20 716.5 472.5)"/>
<ellipse cx="710.7" cy="420.8" rx="3.4" ry="2" fill="#000" stroke="none"/>
<ellipse cx="265.0" cy="470.0" rx="1.2" ry="1.2" fill="#000" stroke="none"/>
<ellipse cx="252.5" cy="509.3" rx="1.6" ry="2.6" fill="#000" stroke="none"/>
<ellipse cx="251.7" cy="518.0" rx="1.6" ry="1.6" fill="#000" stroke="none"/>
<ellipse cx="270.0" cy="515.8" rx="2.6" ry="2.8" fill="#000" stroke="none"/>
<ellipse cx="713.0" cy="251.5" rx="2.4" ry="4.6" fill="#000" stroke="none"/>
<ellipse cx="466.7" cy="345.8" rx="1.4" ry="1.4" fill="#000" stroke="none"/>
<ellipse cx="367.5" cy="389.5" rx="1.5" ry="1.5" fill="#000" stroke="none"/>
<ellipse cx="361.7" cy="381.2" rx="1.2" ry="1.2" fill="#000" stroke="none"/>
<ellipse cx="363.8" cy="425.3" rx="1.3" ry="1.3" fill="#000" stroke="none"/>
<ellipse cx="367.2" cy="424.2" rx="1" ry="1" fill="#000" stroke="none"/>
<ellipse cx="368.8" cy="402.5" rx="1.6" ry="2.4" fill="#000" stroke="none"/>
<ellipse cx="388.8" cy="394.7" rx="2" ry="1.4" fill="#000" stroke="none"/>
<ellipse cx="399.3" cy="416.7" rx="2.2" ry="2.8" fill="#000" stroke="none"/>
<ellipse cx="531.2" cy="95.5" rx="1.6" ry="1.4" fill="#000" stroke="none"/>
</g>
<rect x="87" y="91" width="640" height="451.5" fill="none" stroke="#000" stroke-width="2" shape-rendering="crispEdges"/>
<g stroke="#000" stroke-width="1" shape-rendering="crispEdges">
<line x1="87.5" y1="542" x2="87.5" y2="547"/>
<line x1="162.5" y1="542" x2="162.5" y2="547"/>
<line x1="237.5" y1="542" x2="237.5" y2="547"/>
<line x1="313.5" y1="542" x2="313.5" y2="547"/>
<line x1="388.5" y1="542" x2="388.5" y2="547"/>
<line x1="463.5" y1="542" x2="463.5" y2="547"/>
<line x1="539.5" y1="542" x2="539.5" y2="547"/>
<line x1="614.5" y1="542" x2="614.5" y2="547"/>
<line x1="689.5" y1="542" x2="689.5" y2="547"/>
<line x1="84" y1="542.5" x2="87" y2="542.5"/>
<line x1="84" y1="497.5" x2="87" y2="497.5"/>
<line x1="84" y1="452.5" x2="87" y2="452.5"/>
<line x1="84" y1="407.5" x2="87" y2="407.5"/>
<line x1="84" y1="362.5" x2="87" y2="362.5"/>
<line x1="84" y1="317.5" x2="87" y2="317.5"/>
<line x1="84" y1="272.5" x2="87" y2="272.5"/>
<line x1="84" y1="226.5" x2="87" y2="226.5"/>
<line x1="84" y1="181.5" x2="87" y2="181.5"/>
<line x1="84" y1="136.5" x2="87" y2="136.5"/>
<line x1="84" y1="91.5" x2="87" y2="91.5"/>
</g>
<g font-size="12" stroke="#000" stroke-width="0.4" text-anchor="middle">
<text transform="translate(87.2,557.4) scale(0.84,1)">40W</text>
<text transform="translate(162.5,557.4) scale(0.84,1)">30W</text>
<text transform="translate(237.8,557.4) scale(0.84,1)">20W</text>
<text transform="translate(313.1,557.4) scale(0.84,1)">10W</text>
<text transform="translate(388.4,557.4) scale(0.84,1)">0</text>
<text transform="translate(463.7,557.4) scale(0.84,1)">10E</text>
<text transform="translate(539.0,557.4) scale(0.84,1)">20E</text>
<text transform="translate(614.3,557.4) scale(0.84,1)">30E</text>
<text transform="translate(689.6,557.4) scale(0.84,1)">40E</text>
</g>
<g font-size="12" stroke="#000" stroke-width="0.4" text-anchor="end">
<text transform="translate(80.6,547.4) scale(0.84,1)">25N</text>
<text transform="translate(80.6,502.2) scale(0.84,1)">30N</text>
<text transform="translate(80.6,457.1) scale(0.84,1)">35N</text>
<text transform="translate(80.6,411.9) scale(0.84,1)">40N</text>
<text transform="translate(80.6,366.8) scale(0.84,1)">45N</text>
<text transform="translate(80.6,321.6) scale(0.84,1)">50N</text>
<text transform="translate(80.6,276.5) scale(0.84,1)">55N</text>
<text transform="translate(80.6,231.3) scale(0.84,1)">60N</text>
<text transform="translate(80.6,186.2) scale(0.84,1)">65N</text>
<text transform="translate(80.6,141.1) scale(0.84,1)">70N</text>
<text transform="translate(80.6,95.9) scale(0.84,1)">75N</text>
</g>
<g font-size="14" stroke="#000" stroke-width="0.15">
<text transform="translate(52.9,21) scale(1.0,1)" textLength="30.9" lengthAdjust="spacing" xml:space="preserve">GFS</text>
<text transform="translate(95.4,21) scale(1.0,1)" textLength="40.5" lengthAdjust="spacing" xml:space="preserve">NCEP</text>
<text transform="translate(149.6,21) scale(1.0,1)" textLength="31.0" lengthAdjust="spacing" xml:space="preserve">USA</text>
<text transform="translate(58.2,42.3) scale(1.0,1)" textLength="8.6" lengthAdjust="spacing" xml:space="preserve">6</text>
<text transform="translate(79.4,42.3) scale(1.0,1)" textLength="7.6" lengthAdjust="spacing" xml:space="preserve">h</text>
<text transform="translate(100.1,42.3) scale(1.08,1)" textLength="68.6" lengthAdjust="spacing" xml:space="preserve">Acc.Prec.</text>
<path d="M85.4 16.3H93.4 M68.4 37.5H76.9 M137 24.2L149 9.4" stroke-width="1.25" fill="none" stroke-linecap="square"/>
</g>
<g font-size="14.7" stroke="#000" stroke-width="0.28">
<text transform="translate(432.5,21) scale(1.12,1)" textLength="93.5" lengthAdjust="spacing" xml:space="preserve">initialisation:</text>
<text transform="translate(545.5,21) scale(1.12,1)" textLength="86.1" lengthAdjust="spacing" xml:space="preserve">2025.10.02.</text>
<text transform="translate(661.3,21) scale(1.12,1)" textLength="40.9" lengthAdjust="spacing" xml:space="preserve">00:00</text>
<text transform="translate(717.2,21) scale(0.9,1)" textLength="32.0" lengthAdjust="spacing" xml:space="preserve">UTC</text>
<text transform="translate(431.4,42.3) scale(1.12,1)" textLength="98.2" lengthAdjust="spacing" xml:space="preserve">valid(+132h):</text>
<text transform="translate(550.8,42.3) scale(1.12,1)" textLength="91.8" lengthAdjust="spacing" xml:space="preserve">2025.OCT.07</text>
<text transform="translate(664.1,42.3) scale(1.12,1)" textLength="39.6" lengthAdjust="spacing" xml:space="preserve">12:00</text>
<text transform="translate(718.3,42.3) scale(0.88,1)" textLength="31.5" lengthAdjust="spacing" xml:space="preserve">UTC</text>
</g>
<g font-weight="bold">
<g font-size="10.3"><text transform="translate(4,615.4) scale(0.86,1)" textLength="100.6" lengthAdjust="spacing" xml:space="preserve">GrADS: COLA/IGES</text></g>
<g font-size="10.8"><text transform="translate(683.5,615.4) scale(1.0,1)" textLength="95.5" lengthAdjust="spacing" xml:space="preserve">2025–10–02–04:22</text></g>
</g>
</svg>
</body></html>
